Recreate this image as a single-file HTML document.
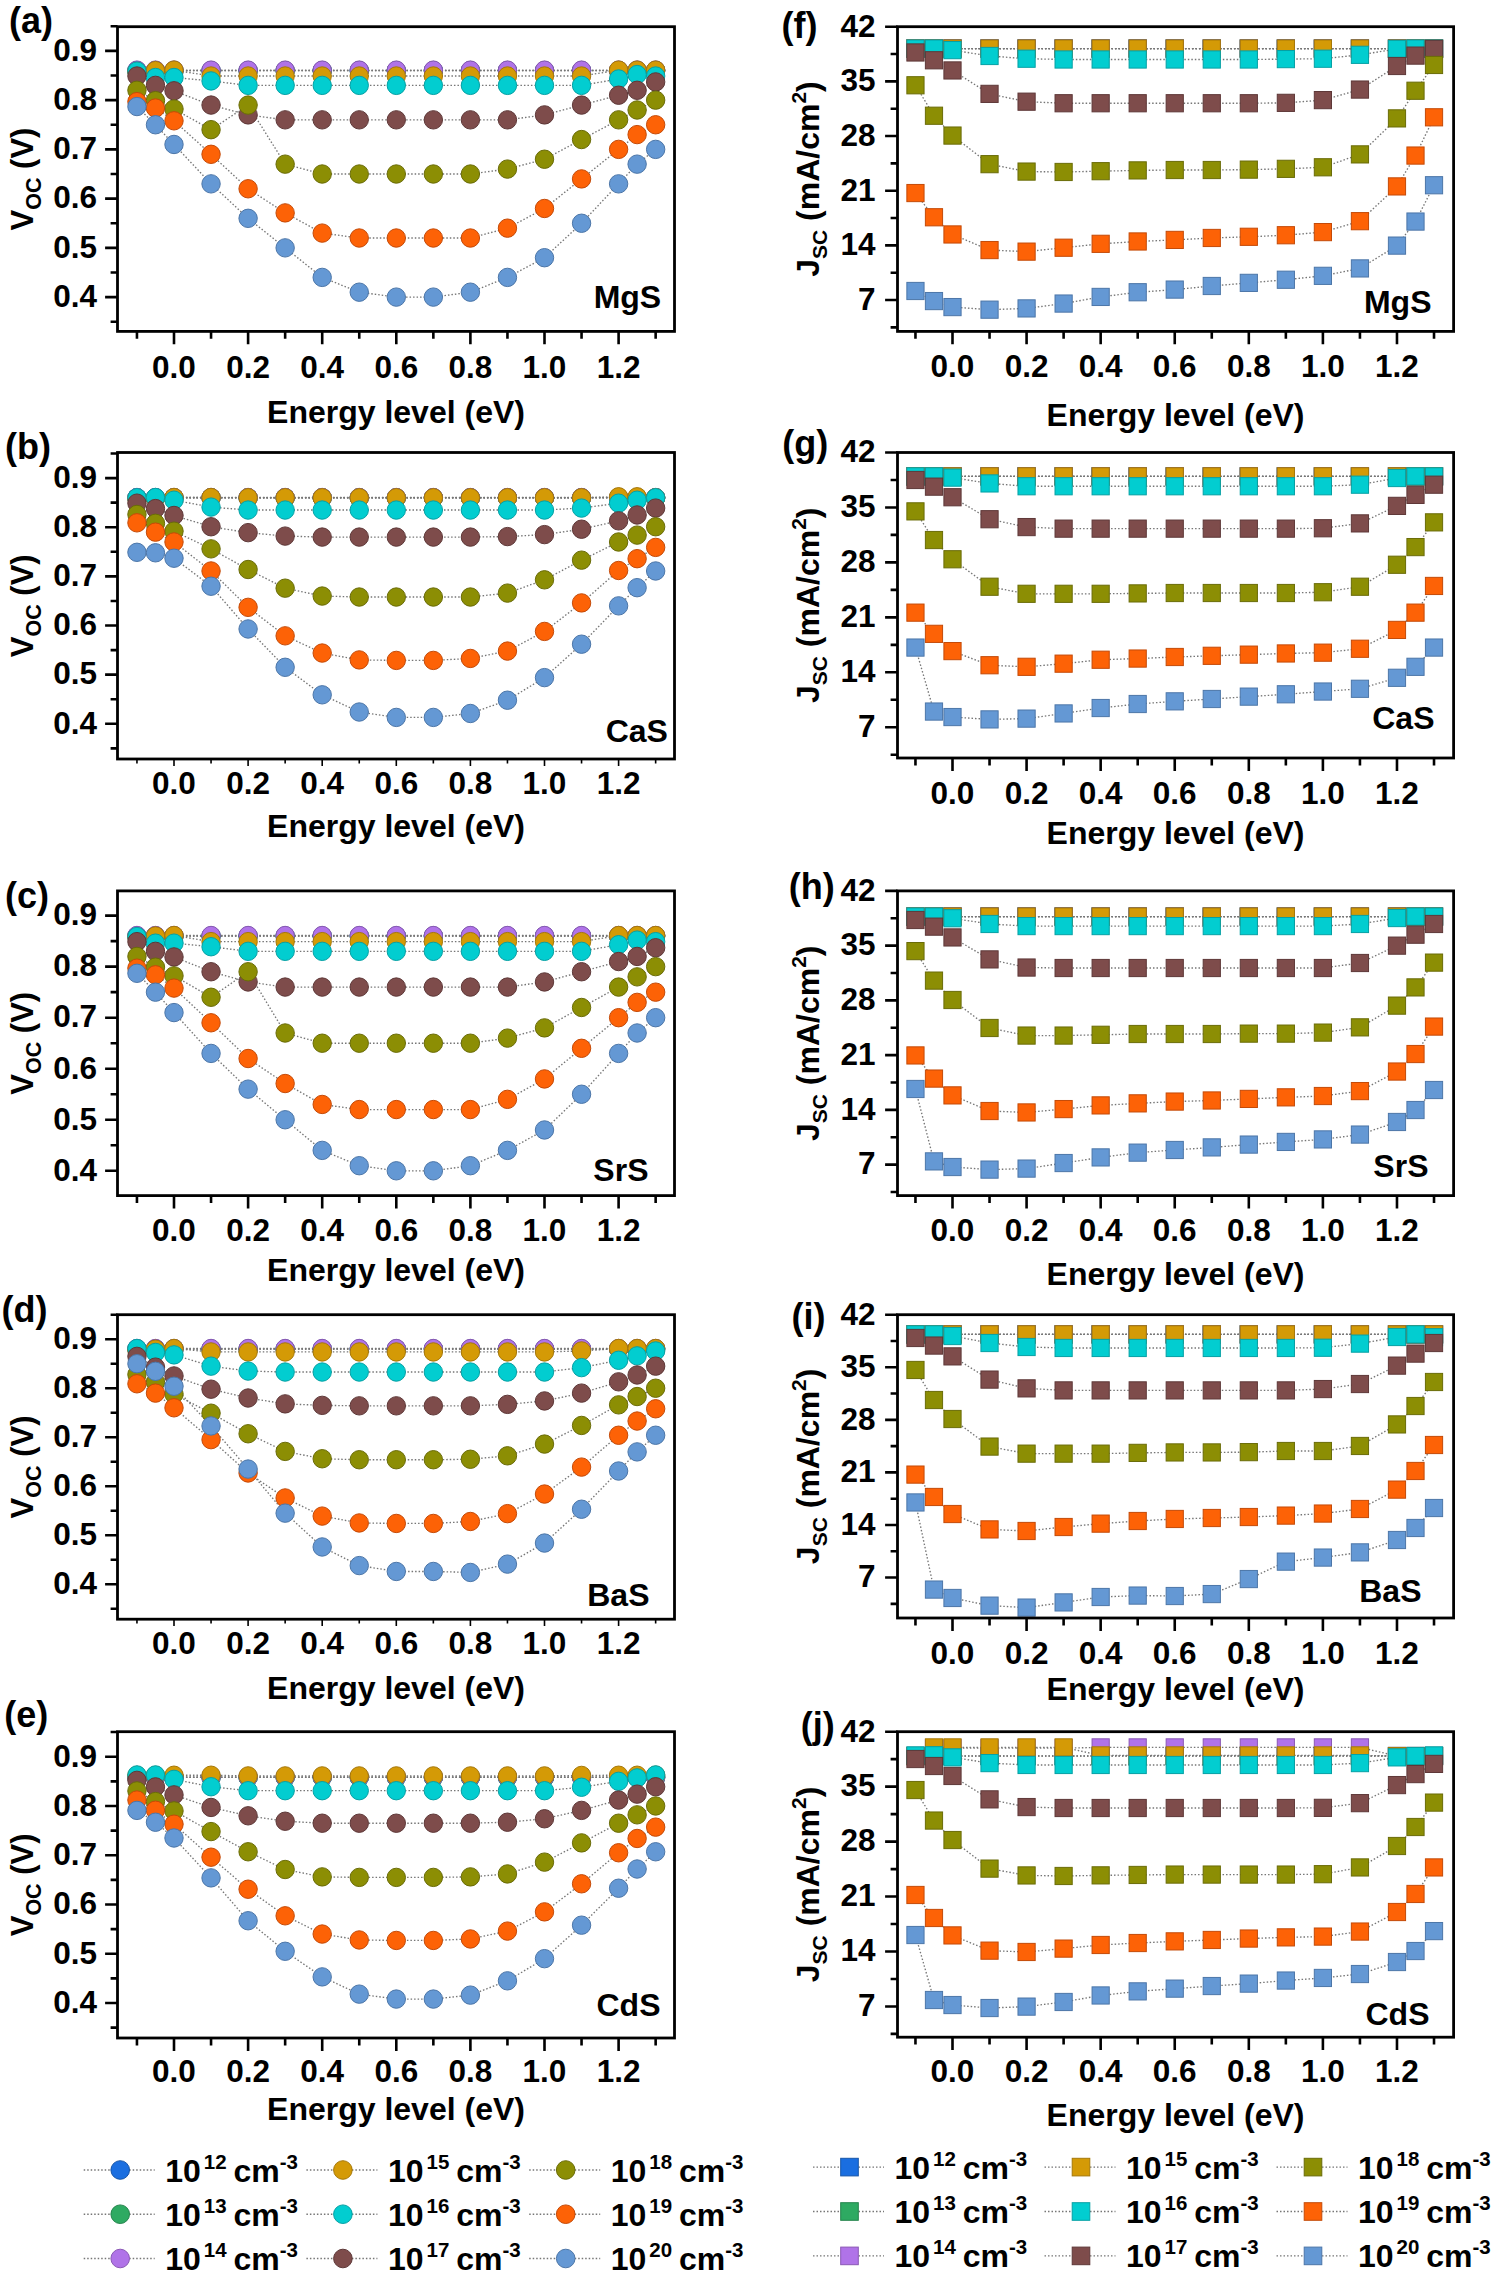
<!DOCTYPE html><html><head><meta charset="utf-8"><title>Voc Jsc defect energy level</title>
<style>html,body{margin:0;padding:0;background:#fff;overflow:hidden;width:1499px;height:2278px;}svg{display:block;}</style></head><body>
<svg width="1499" height="2278" viewBox="0 0 1499 2278">
<rect width="1499" height="2278" fill="#fff"/>
<g fill="none" stroke="#767676" stroke-width="1.35" stroke-dasharray="1.5 2.0">
<polyline points="136.95,70.6 155.47,70.6 174,70.6 211.05,70.6 248.1,70.6 285.15,70.6 322.2,70.6 359.25,70.6 396.3,70.6 433.35,70.6 470.4,70.6 507.45,70.6 544.5,70.6 581.55,70.6 618.6,70.6 637.12,70.6 655.65,70.6"/>
<polyline points="136.95,70.6 155.47,70.6 174,70.6 211.05,70.6 248.1,70.6 285.15,70.6 322.2,70.6 359.25,70.6 396.3,70.6 433.35,70.6 470.4,70.6 507.45,70.6 544.5,70.6 581.55,70.6 618.6,70.6 637.12,70.6 655.65,70.6"/>
<polyline points="136.95,70.1 155.47,70.1 174,70.1 211.05,70.1 248.1,70.1 285.15,70.1 322.2,70.1 359.25,70.1 396.3,70.1 433.35,70.1 470.4,70.1 507.45,70.1 544.5,70.1 581.55,70.1 618.6,70.1 637.12,70.1 655.65,70.1"/>
<polyline points="136.95,71.58 155.47,70.6 174,70.1 211.05,76.01 248.1,76.01 285.15,76.01 322.2,76.01 359.25,76.01 396.3,76.01 433.35,76.01 470.4,76.01 507.45,76.01 544.5,76.01 581.55,76.01 618.6,70.1 637.12,70.1 655.65,70.1"/>
<polyline points="136.95,71.09 155.47,77.49 174,77.49 211.05,80.94 248.1,85.37 285.15,85.37 322.2,85.37 359.25,85.37 396.3,85.37 433.35,85.37 470.4,85.37 507.45,85.37 544.5,85.37 581.55,85.37 618.6,78.97 637.12,74.54 655.65,76.01"/>
<polyline points="136.95,76.01 155.47,85.37 174,90.78 211.05,105.06 248.1,114.91 285.15,119.84 322.2,119.84 359.25,119.84 396.3,119.84 433.35,119.84 470.4,119.84 507.45,119.84 544.5,114.91 581.55,105.06 618.6,95.22 637.12,90.29 655.65,81.92"/>
<polyline points="136.95,90.29 155.47,100.63 174,109 211.05,129.68 248.1,105.06 285.15,164.15 322.2,174 359.25,174 396.3,174 433.35,174 470.4,174 507.45,169.08 544.5,159.23 581.55,139.53 618.6,119.84 637.12,109.99 655.65,100.14"/>
<polyline points="136.95,101.62 155.47,108.02 174,120.82 211.05,154.3 248.1,188.77 285.15,212.9 322.2,233.09 359.25,238.01 396.3,238.01 433.35,238.01 470.4,238.01 507.45,228.16 544.5,208.47 581.55,178.92 618.6,149.38 637.12,134.61 655.65,124.76"/>
<polyline points="136.95,106.54 155.47,124.76 174,144.46 211.05,183.85 248.1,218.32 285.15,247.86 322.2,277.4 359.25,292.18 396.3,297.1 433.35,297.1 470.4,292.18 507.45,277.4 544.5,257.71 581.55,223.24 618.6,183.85 637.12,164.15 655.65,149.38"/>
</g>
<g fill="#1a6ee0" stroke="#1655a8" stroke-width="1">
<circle cx="136.95" cy="70.6" r="9.2"/>
<circle cx="155.47" cy="70.6" r="9.2"/>
<circle cx="174" cy="70.6" r="9.2"/>
<circle cx="211.05" cy="70.6" r="9.2"/>
<circle cx="248.1" cy="70.6" r="9.2"/>
<circle cx="285.15" cy="70.6" r="9.2"/>
<circle cx="322.2" cy="70.6" r="9.2"/>
<circle cx="359.25" cy="70.6" r="9.2"/>
<circle cx="396.3" cy="70.6" r="9.2"/>
<circle cx="433.35" cy="70.6" r="9.2"/>
<circle cx="470.4" cy="70.6" r="9.2"/>
<circle cx="507.45" cy="70.6" r="9.2"/>
<circle cx="544.5" cy="70.6" r="9.2"/>
<circle cx="581.55" cy="70.6" r="9.2"/>
<circle cx="618.6" cy="70.6" r="9.2"/>
<circle cx="637.12" cy="70.6" r="9.2"/>
<circle cx="655.65" cy="70.6" r="9.2"/>
</g>
<g fill="#2eaa62" stroke="#24844c" stroke-width="1">
<circle cx="136.95" cy="70.6" r="9.2"/>
<circle cx="155.47" cy="70.6" r="9.2"/>
<circle cx="174" cy="70.6" r="9.2"/>
<circle cx="211.05" cy="70.6" r="9.2"/>
<circle cx="248.1" cy="70.6" r="9.2"/>
<circle cx="285.15" cy="70.6" r="9.2"/>
<circle cx="322.2" cy="70.6" r="9.2"/>
<circle cx="359.25" cy="70.6" r="9.2"/>
<circle cx="396.3" cy="70.6" r="9.2"/>
<circle cx="433.35" cy="70.6" r="9.2"/>
<circle cx="470.4" cy="70.6" r="9.2"/>
<circle cx="507.45" cy="70.6" r="9.2"/>
<circle cx="544.5" cy="70.6" r="9.2"/>
<circle cx="581.55" cy="70.6" r="9.2"/>
<circle cx="618.6" cy="70.6" r="9.2"/>
<circle cx="637.12" cy="70.6" r="9.2"/>
<circle cx="655.65" cy="70.6" r="9.2"/>
</g>
<g fill="#b073e8" stroke="#8a58b5" stroke-width="1">
<circle cx="136.95" cy="70.1" r="9.2"/>
<circle cx="155.47" cy="70.1" r="9.2"/>
<circle cx="174" cy="70.1" r="9.2"/>
<circle cx="211.05" cy="70.1" r="9.2"/>
<circle cx="248.1" cy="70.1" r="9.2"/>
<circle cx="285.15" cy="70.1" r="9.2"/>
<circle cx="322.2" cy="70.1" r="9.2"/>
<circle cx="359.25" cy="70.1" r="9.2"/>
<circle cx="396.3" cy="70.1" r="9.2"/>
<circle cx="433.35" cy="70.1" r="9.2"/>
<circle cx="470.4" cy="70.1" r="9.2"/>
<circle cx="507.45" cy="70.1" r="9.2"/>
<circle cx="544.5" cy="70.1" r="9.2"/>
<circle cx="581.55" cy="70.1" r="9.2"/>
<circle cx="618.6" cy="70.1" r="9.2"/>
<circle cx="637.12" cy="70.1" r="9.2"/>
<circle cx="655.65" cy="70.1" r="9.2"/>
</g>
<g fill="#d49a06" stroke="#a67808" stroke-width="1">
<circle cx="136.95" cy="71.58" r="9.2"/>
<circle cx="155.47" cy="70.6" r="9.2"/>
<circle cx="174" cy="70.1" r="9.2"/>
<circle cx="211.05" cy="76.01" r="9.2"/>
<circle cx="248.1" cy="76.01" r="9.2"/>
<circle cx="285.15" cy="76.01" r="9.2"/>
<circle cx="322.2" cy="76.01" r="9.2"/>
<circle cx="359.25" cy="76.01" r="9.2"/>
<circle cx="396.3" cy="76.01" r="9.2"/>
<circle cx="433.35" cy="76.01" r="9.2"/>
<circle cx="470.4" cy="76.01" r="9.2"/>
<circle cx="507.45" cy="76.01" r="9.2"/>
<circle cx="544.5" cy="76.01" r="9.2"/>
<circle cx="581.55" cy="76.01" r="9.2"/>
<circle cx="618.6" cy="70.1" r="9.2"/>
<circle cx="637.12" cy="70.1" r="9.2"/>
<circle cx="655.65" cy="70.1" r="9.2"/>
</g>
<g fill="#02cdd0" stroke="#06a0a4" stroke-width="1">
<circle cx="136.95" cy="71.09" r="9.2"/>
<circle cx="155.47" cy="77.49" r="9.2"/>
<circle cx="174" cy="77.49" r="9.2"/>
<circle cx="211.05" cy="80.94" r="9.2"/>
<circle cx="248.1" cy="85.37" r="9.2"/>
<circle cx="285.15" cy="85.37" r="9.2"/>
<circle cx="322.2" cy="85.37" r="9.2"/>
<circle cx="359.25" cy="85.37" r="9.2"/>
<circle cx="396.3" cy="85.37" r="9.2"/>
<circle cx="433.35" cy="85.37" r="9.2"/>
<circle cx="470.4" cy="85.37" r="9.2"/>
<circle cx="507.45" cy="85.37" r="9.2"/>
<circle cx="544.5" cy="85.37" r="9.2"/>
<circle cx="581.55" cy="85.37" r="9.2"/>
<circle cx="618.6" cy="78.97" r="9.2"/>
<circle cx="637.12" cy="74.54" r="9.2"/>
<circle cx="655.65" cy="76.01" r="9.2"/>
</g>
<g fill="#7e4c4b" stroke="#5e3838" stroke-width="1">
<circle cx="136.95" cy="76.01" r="9.2"/>
<circle cx="155.47" cy="85.37" r="9.2"/>
<circle cx="174" cy="90.78" r="9.2"/>
<circle cx="211.05" cy="105.06" r="9.2"/>
<circle cx="248.1" cy="114.91" r="9.2"/>
<circle cx="285.15" cy="119.84" r="9.2"/>
<circle cx="322.2" cy="119.84" r="9.2"/>
<circle cx="359.25" cy="119.84" r="9.2"/>
<circle cx="396.3" cy="119.84" r="9.2"/>
<circle cx="433.35" cy="119.84" r="9.2"/>
<circle cx="470.4" cy="119.84" r="9.2"/>
<circle cx="507.45" cy="119.84" r="9.2"/>
<circle cx="544.5" cy="114.91" r="9.2"/>
<circle cx="581.55" cy="105.06" r="9.2"/>
<circle cx="618.6" cy="95.22" r="9.2"/>
<circle cx="637.12" cy="90.29" r="9.2"/>
<circle cx="655.65" cy="81.92" r="9.2"/>
</g>
<g fill="#8c8e04" stroke="#6a6c08" stroke-width="1">
<circle cx="136.95" cy="90.29" r="9.2"/>
<circle cx="155.47" cy="100.63" r="9.2"/>
<circle cx="174" cy="109" r="9.2"/>
<circle cx="211.05" cy="129.68" r="9.2"/>
<circle cx="248.1" cy="105.06" r="9.2"/>
<circle cx="285.15" cy="164.15" r="9.2"/>
<circle cx="322.2" cy="174" r="9.2"/>
<circle cx="359.25" cy="174" r="9.2"/>
<circle cx="396.3" cy="174" r="9.2"/>
<circle cx="433.35" cy="174" r="9.2"/>
<circle cx="470.4" cy="174" r="9.2"/>
<circle cx="507.45" cy="169.08" r="9.2"/>
<circle cx="544.5" cy="159.23" r="9.2"/>
<circle cx="581.55" cy="139.53" r="9.2"/>
<circle cx="618.6" cy="119.84" r="9.2"/>
<circle cx="637.12" cy="109.99" r="9.2"/>
<circle cx="655.65" cy="100.14" r="9.2"/>
</g>
<g fill="#fd6206" stroke="#c44a08" stroke-width="1">
<circle cx="136.95" cy="101.62" r="9.2"/>
<circle cx="155.47" cy="108.02" r="9.2"/>
<circle cx="174" cy="120.82" r="9.2"/>
<circle cx="211.05" cy="154.3" r="9.2"/>
<circle cx="248.1" cy="188.77" r="9.2"/>
<circle cx="285.15" cy="212.9" r="9.2"/>
<circle cx="322.2" cy="233.09" r="9.2"/>
<circle cx="359.25" cy="238.01" r="9.2"/>
<circle cx="396.3" cy="238.01" r="9.2"/>
<circle cx="433.35" cy="238.01" r="9.2"/>
<circle cx="470.4" cy="238.01" r="9.2"/>
<circle cx="507.45" cy="228.16" r="9.2"/>
<circle cx="544.5" cy="208.47" r="9.2"/>
<circle cx="581.55" cy="178.92" r="9.2"/>
<circle cx="618.6" cy="149.38" r="9.2"/>
<circle cx="637.12" cy="134.61" r="9.2"/>
<circle cx="655.65" cy="124.76" r="9.2"/>
</g>
<g fill="#6498d4" stroke="#4c76a8" stroke-width="1">
<circle cx="136.95" cy="106.54" r="9.2"/>
<circle cx="155.47" cy="124.76" r="9.2"/>
<circle cx="174" cy="144.46" r="9.2"/>
<circle cx="211.05" cy="183.85" r="9.2"/>
<circle cx="248.1" cy="218.32" r="9.2"/>
<circle cx="285.15" cy="247.86" r="9.2"/>
<circle cx="322.2" cy="277.4" r="9.2"/>
<circle cx="359.25" cy="292.18" r="9.2"/>
<circle cx="396.3" cy="297.1" r="9.2"/>
<circle cx="433.35" cy="297.1" r="9.2"/>
<circle cx="470.4" cy="292.18" r="9.2"/>
<circle cx="507.45" cy="277.4" r="9.2"/>
<circle cx="544.5" cy="257.71" r="9.2"/>
<circle cx="581.55" cy="223.24" r="9.2"/>
<circle cx="618.6" cy="183.85" r="9.2"/>
<circle cx="637.12" cy="164.15" r="9.2"/>
<circle cx="655.65" cy="149.38" r="9.2"/>
</g>
<rect x="117.5" y="26.7" width="557" height="304.7" fill="none" stroke="#000" stroke-width="2.8"/>
<path d="M136.95 331.4V338.8M174 331.4V344.3M211.05 331.4V338.8M248.1 331.4V344.3M285.15 331.4V338.8M322.2 331.4V344.3M359.25 331.4V338.8M396.3 331.4V344.3M433.35 331.4V338.8M470.4 331.4V344.3M507.45 331.4V338.8M544.5 331.4V344.3M581.55 331.4V338.8M618.6 331.4V344.3M655.65 331.4V338.8" stroke="#000" stroke-width="2.6" fill="none"/>
<path d="M117.5 321.72H110.6M117.5 297.1H105.1M117.5 272.48H110.6M117.5 247.86H105.1M117.5 223.24H110.6M117.5 198.62H105.1M117.5 174H110.6M117.5 149.38H105.1M117.5 124.76H110.6M117.5 100.14H105.1M117.5 75.52H110.6M117.5 50.9H105.1M117.5 26.28H110.6" stroke="#000" stroke-width="2.6" fill="none"/>
<g font-family="'Liberation Sans', sans-serif" font-weight="bold" font-size="31.5" fill="#000">
<text x="174" y="377.6" text-anchor="middle">0.0</text>
<text x="248.1" y="377.6" text-anchor="middle">0.2</text>
<text x="322.2" y="377.6" text-anchor="middle">0.4</text>
<text x="396.3" y="377.6" text-anchor="middle">0.6</text>
<text x="470.4" y="377.6" text-anchor="middle">0.8</text>
<text x="544.5" y="377.6" text-anchor="middle">1.0</text>
<text x="618.6" y="377.6" text-anchor="middle">1.2</text>
<text x="97" y="306.9" text-anchor="end">0.4</text>
<text x="97" y="257.66" text-anchor="end">0.5</text>
<text x="97" y="208.42" text-anchor="end">0.6</text>
<text x="97" y="159.18" text-anchor="end">0.7</text>
<text x="97" y="109.94" text-anchor="end">0.8</text>
<text x="97" y="60.7" text-anchor="end">0.9</text>
</g>
<text x="396" y="423" font-family="'Liberation Sans', sans-serif" font-weight="bold" font-size="32" text-anchor="middle">Energy level (eV)</text>
<text transform="translate(33,179.05) rotate(-90)" font-family="'Liberation Sans', sans-serif" font-weight="bold" font-size="31" text-anchor="middle">V<tspan font-size="21.5" dy="8">OC</tspan><tspan dy="-8"> (V)</tspan></text>
<text x="9" y="33.2" font-family="'Liberation Sans', sans-serif" font-weight="bold" font-size="36">(a)</text>
<text x="661.2" y="308.4" font-family="'Liberation Sans', sans-serif" font-weight="bold" font-size="32" text-anchor="end">MgS</text>
<g fill="none" stroke="#767676" stroke-width="1.35" stroke-dasharray="1.5 2.0">
<polyline points="136.95,497.76 155.47,497.76 174,497.76 211.05,497.76 248.1,497.76 285.15,497.76 322.2,497.76 359.25,497.76 396.3,497.76 433.35,497.76 470.4,497.76 507.45,497.76 544.5,497.76 581.55,497.76 618.6,497.76 637.12,497.76 655.65,497.76"/>
<polyline points="136.95,497.76 155.47,497.76 174,497.76 211.05,497.76 248.1,497.76 285.15,497.76 322.2,497.76 359.25,497.76 396.3,497.76 433.35,497.76 470.4,497.76 507.45,497.76 544.5,497.76 581.55,497.76 618.6,497.76 637.12,497.76 655.65,497.76"/>
<polyline points="136.95,497.51 155.47,497.51 174,497.51 211.05,497.51 248.1,497.51 285.15,497.51 322.2,497.51 359.25,497.51 396.3,497.51 433.35,497.51 470.4,497.51 507.45,497.51 544.5,497.51 581.55,497.51 618.6,497.51 637.12,497.51 655.65,497.51"/>
<polyline points="136.95,498.74 155.47,498.25 174,497.51 211.05,497.51 248.1,497.76 285.15,497.76 322.2,497.76 359.25,497.76 396.3,497.76 433.35,497.76 470.4,497.76 507.45,497.76 544.5,497.76 581.55,497.76 618.6,496.77 637.12,496.77 655.65,497.76"/>
<polyline points="136.95,497.76 155.47,497.51 174,500.21 211.05,507.09 248.1,510.04 285.15,510.04 322.2,510.04 359.25,510.04 396.3,510.04 433.35,510.04 470.4,510.04 507.45,510.04 544.5,510.04 581.55,508.08 618.6,503.16 637.12,500.21 655.65,497.76"/>
<polyline points="136.95,503.16 155.47,508.57 174,515.45 211.05,526.75 248.1,532.65 285.15,536.09 322.2,537.07 359.25,537.07 396.3,537.07 433.35,537.07 470.4,537.07 507.45,536.58 544.5,534.61 581.55,529.21 618.6,520.85 637.12,514.96 655.65,508.08"/>
<polyline points="136.95,514.46 155.47,523.31 174,531.17 211.05,548.86 248.1,569.5 285.15,588.17 322.2,596.04 359.25,597.02 396.3,597.02 433.35,597.02 470.4,597.02 507.45,593.09 544.5,579.82 581.55,560.16 618.6,541.98 637.12,535.1 655.65,526.75"/>
<polyline points="136.95,522.82 155.47,532.15 174,541.98 211.05,570.97 248.1,607.34 285.15,635.84 322.2,653.04 359.25,659.92 396.3,660.41 433.35,660.41 470.4,658.44 507.45,651.07 544.5,631.42 581.55,602.92 618.6,570.48 637.12,558.69 655.65,547.39"/>
<polyline points="136.95,552.3 155.47,552.79 174,558.2 211.05,586.21 248.1,628.96 285.15,667.29 322.2,694.81 359.25,712.01 396.3,717.41 433.35,717.41 470.4,713.48 507.45,700.21 544.5,677.61 581.55,644.19 618.6,605.86 637.12,587.68 655.65,570.97"/>
</g>
<g fill="#1a6ee0" stroke="#1655a8" stroke-width="1">
<circle cx="136.95" cy="497.76" r="9.2"/>
<circle cx="155.47" cy="497.76" r="9.2"/>
<circle cx="174" cy="497.76" r="9.2"/>
<circle cx="211.05" cy="497.76" r="9.2"/>
<circle cx="248.1" cy="497.76" r="9.2"/>
<circle cx="285.15" cy="497.76" r="9.2"/>
<circle cx="322.2" cy="497.76" r="9.2"/>
<circle cx="359.25" cy="497.76" r="9.2"/>
<circle cx="396.3" cy="497.76" r="9.2"/>
<circle cx="433.35" cy="497.76" r="9.2"/>
<circle cx="470.4" cy="497.76" r="9.2"/>
<circle cx="507.45" cy="497.76" r="9.2"/>
<circle cx="544.5" cy="497.76" r="9.2"/>
<circle cx="581.55" cy="497.76" r="9.2"/>
<circle cx="618.6" cy="497.76" r="9.2"/>
<circle cx="637.12" cy="497.76" r="9.2"/>
<circle cx="655.65" cy="497.76" r="9.2"/>
</g>
<g fill="#2eaa62" stroke="#24844c" stroke-width="1">
<circle cx="136.95" cy="497.76" r="9.2"/>
<circle cx="155.47" cy="497.76" r="9.2"/>
<circle cx="174" cy="497.76" r="9.2"/>
<circle cx="211.05" cy="497.76" r="9.2"/>
<circle cx="248.1" cy="497.76" r="9.2"/>
<circle cx="285.15" cy="497.76" r="9.2"/>
<circle cx="322.2" cy="497.76" r="9.2"/>
<circle cx="359.25" cy="497.76" r="9.2"/>
<circle cx="396.3" cy="497.76" r="9.2"/>
<circle cx="433.35" cy="497.76" r="9.2"/>
<circle cx="470.4" cy="497.76" r="9.2"/>
<circle cx="507.45" cy="497.76" r="9.2"/>
<circle cx="544.5" cy="497.76" r="9.2"/>
<circle cx="581.55" cy="497.76" r="9.2"/>
<circle cx="618.6" cy="497.76" r="9.2"/>
<circle cx="637.12" cy="497.76" r="9.2"/>
<circle cx="655.65" cy="497.76" r="9.2"/>
</g>
<g fill="#b073e8" stroke="#8a58b5" stroke-width="1">
<circle cx="136.95" cy="497.51" r="9.2"/>
<circle cx="155.47" cy="497.51" r="9.2"/>
<circle cx="174" cy="497.51" r="9.2"/>
<circle cx="211.05" cy="497.51" r="9.2"/>
<circle cx="248.1" cy="497.51" r="9.2"/>
<circle cx="285.15" cy="497.51" r="9.2"/>
<circle cx="322.2" cy="497.51" r="9.2"/>
<circle cx="359.25" cy="497.51" r="9.2"/>
<circle cx="396.3" cy="497.51" r="9.2"/>
<circle cx="433.35" cy="497.51" r="9.2"/>
<circle cx="470.4" cy="497.51" r="9.2"/>
<circle cx="507.45" cy="497.51" r="9.2"/>
<circle cx="544.5" cy="497.51" r="9.2"/>
<circle cx="581.55" cy="497.51" r="9.2"/>
<circle cx="618.6" cy="497.51" r="9.2"/>
<circle cx="637.12" cy="497.51" r="9.2"/>
<circle cx="655.65" cy="497.51" r="9.2"/>
</g>
<g fill="#d49a06" stroke="#a67808" stroke-width="1">
<circle cx="136.95" cy="498.74" r="9.2"/>
<circle cx="155.47" cy="498.25" r="9.2"/>
<circle cx="174" cy="497.51" r="9.2"/>
<circle cx="211.05" cy="497.51" r="9.2"/>
<circle cx="248.1" cy="497.76" r="9.2"/>
<circle cx="285.15" cy="497.76" r="9.2"/>
<circle cx="322.2" cy="497.76" r="9.2"/>
<circle cx="359.25" cy="497.76" r="9.2"/>
<circle cx="396.3" cy="497.76" r="9.2"/>
<circle cx="433.35" cy="497.76" r="9.2"/>
<circle cx="470.4" cy="497.76" r="9.2"/>
<circle cx="507.45" cy="497.76" r="9.2"/>
<circle cx="544.5" cy="497.76" r="9.2"/>
<circle cx="581.55" cy="497.76" r="9.2"/>
<circle cx="618.6" cy="496.77" r="9.2"/>
<circle cx="637.12" cy="496.77" r="9.2"/>
<circle cx="655.65" cy="497.76" r="9.2"/>
</g>
<g fill="#02cdd0" stroke="#06a0a4" stroke-width="1">
<circle cx="136.95" cy="497.76" r="9.2"/>
<circle cx="155.47" cy="497.51" r="9.2"/>
<circle cx="174" cy="500.21" r="9.2"/>
<circle cx="211.05" cy="507.09" r="9.2"/>
<circle cx="248.1" cy="510.04" r="9.2"/>
<circle cx="285.15" cy="510.04" r="9.2"/>
<circle cx="322.2" cy="510.04" r="9.2"/>
<circle cx="359.25" cy="510.04" r="9.2"/>
<circle cx="396.3" cy="510.04" r="9.2"/>
<circle cx="433.35" cy="510.04" r="9.2"/>
<circle cx="470.4" cy="510.04" r="9.2"/>
<circle cx="507.45" cy="510.04" r="9.2"/>
<circle cx="544.5" cy="510.04" r="9.2"/>
<circle cx="581.55" cy="508.08" r="9.2"/>
<circle cx="618.6" cy="503.16" r="9.2"/>
<circle cx="637.12" cy="500.21" r="9.2"/>
<circle cx="655.65" cy="497.76" r="9.2"/>
</g>
<g fill="#7e4c4b" stroke="#5e3838" stroke-width="1">
<circle cx="136.95" cy="503.16" r="9.2"/>
<circle cx="155.47" cy="508.57" r="9.2"/>
<circle cx="174" cy="515.45" r="9.2"/>
<circle cx="211.05" cy="526.75" r="9.2"/>
<circle cx="248.1" cy="532.65" r="9.2"/>
<circle cx="285.15" cy="536.09" r="9.2"/>
<circle cx="322.2" cy="537.07" r="9.2"/>
<circle cx="359.25" cy="537.07" r="9.2"/>
<circle cx="396.3" cy="537.07" r="9.2"/>
<circle cx="433.35" cy="537.07" r="9.2"/>
<circle cx="470.4" cy="537.07" r="9.2"/>
<circle cx="507.45" cy="536.58" r="9.2"/>
<circle cx="544.5" cy="534.61" r="9.2"/>
<circle cx="581.55" cy="529.21" r="9.2"/>
<circle cx="618.6" cy="520.85" r="9.2"/>
<circle cx="637.12" cy="514.96" r="9.2"/>
<circle cx="655.65" cy="508.08" r="9.2"/>
</g>
<g fill="#8c8e04" stroke="#6a6c08" stroke-width="1">
<circle cx="136.95" cy="514.46" r="9.2"/>
<circle cx="155.47" cy="523.31" r="9.2"/>
<circle cx="174" cy="531.17" r="9.2"/>
<circle cx="211.05" cy="548.86" r="9.2"/>
<circle cx="248.1" cy="569.5" r="9.2"/>
<circle cx="285.15" cy="588.17" r="9.2"/>
<circle cx="322.2" cy="596.04" r="9.2"/>
<circle cx="359.25" cy="597.02" r="9.2"/>
<circle cx="396.3" cy="597.02" r="9.2"/>
<circle cx="433.35" cy="597.02" r="9.2"/>
<circle cx="470.4" cy="597.02" r="9.2"/>
<circle cx="507.45" cy="593.09" r="9.2"/>
<circle cx="544.5" cy="579.82" r="9.2"/>
<circle cx="581.55" cy="560.16" r="9.2"/>
<circle cx="618.6" cy="541.98" r="9.2"/>
<circle cx="637.12" cy="535.1" r="9.2"/>
<circle cx="655.65" cy="526.75" r="9.2"/>
</g>
<g fill="#fd6206" stroke="#c44a08" stroke-width="1">
<circle cx="136.95" cy="522.82" r="9.2"/>
<circle cx="155.47" cy="532.15" r="9.2"/>
<circle cx="174" cy="541.98" r="9.2"/>
<circle cx="211.05" cy="570.97" r="9.2"/>
<circle cx="248.1" cy="607.34" r="9.2"/>
<circle cx="285.15" cy="635.84" r="9.2"/>
<circle cx="322.2" cy="653.04" r="9.2"/>
<circle cx="359.25" cy="659.92" r="9.2"/>
<circle cx="396.3" cy="660.41" r="9.2"/>
<circle cx="433.35" cy="660.41" r="9.2"/>
<circle cx="470.4" cy="658.44" r="9.2"/>
<circle cx="507.45" cy="651.07" r="9.2"/>
<circle cx="544.5" cy="631.42" r="9.2"/>
<circle cx="581.55" cy="602.92" r="9.2"/>
<circle cx="618.6" cy="570.48" r="9.2"/>
<circle cx="637.12" cy="558.69" r="9.2"/>
<circle cx="655.65" cy="547.39" r="9.2"/>
</g>
<g fill="#6498d4" stroke="#4c76a8" stroke-width="1">
<circle cx="136.95" cy="552.3" r="9.2"/>
<circle cx="155.47" cy="552.79" r="9.2"/>
<circle cx="174" cy="558.2" r="9.2"/>
<circle cx="211.05" cy="586.21" r="9.2"/>
<circle cx="248.1" cy="628.96" r="9.2"/>
<circle cx="285.15" cy="667.29" r="9.2"/>
<circle cx="322.2" cy="694.81" r="9.2"/>
<circle cx="359.25" cy="712.01" r="9.2"/>
<circle cx="396.3" cy="717.41" r="9.2"/>
<circle cx="433.35" cy="717.41" r="9.2"/>
<circle cx="470.4" cy="713.48" r="9.2"/>
<circle cx="507.45" cy="700.21" r="9.2"/>
<circle cx="544.5" cy="677.61" r="9.2"/>
<circle cx="581.55" cy="644.19" r="9.2"/>
<circle cx="618.6" cy="605.86" r="9.2"/>
<circle cx="637.12" cy="587.68" r="9.2"/>
<circle cx="655.65" cy="570.97" r="9.2"/>
</g>
<rect x="117.5" y="452.5" width="557" height="306.5" fill="none" stroke="#000" stroke-width="2.8"/>
<path d="M136.95 759V763.4M174 759V765.9M211.05 759V763.4M248.1 759V765.9M285.15 759V763.4M322.2 759V765.9M359.25 759V763.4M396.3 759V765.9M433.35 759V763.4M470.4 759V765.9M507.45 759V763.4M544.5 759V765.9M581.55 759V763.4M618.6 759V765.9M655.65 759V763.4" stroke="#000" stroke-width="1.6" fill="none"/>
<path d="M117.5 748.37H110.6M117.5 723.8H105.1M117.5 699.23H110.6M117.5 674.66H105.1M117.5 650.09H110.6M117.5 625.52H105.1M117.5 600.95H110.6M117.5 576.38H105.1M117.5 551.81H110.6M117.5 527.24H105.1M117.5 502.67H110.6M117.5 478.1H105.1M117.5 453.53H110.6" stroke="#000" stroke-width="2.6" fill="none"/>
<g font-family="'Liberation Sans', sans-serif" font-weight="bold" font-size="31.5" fill="#000">
<text x="174" y="793.6" text-anchor="middle">0.0</text>
<text x="248.1" y="793.6" text-anchor="middle">0.2</text>
<text x="322.2" y="793.6" text-anchor="middle">0.4</text>
<text x="396.3" y="793.6" text-anchor="middle">0.6</text>
<text x="470.4" y="793.6" text-anchor="middle">0.8</text>
<text x="544.5" y="793.6" text-anchor="middle">1.0</text>
<text x="618.6" y="793.6" text-anchor="middle">1.2</text>
<text x="97" y="733.6" text-anchor="end">0.4</text>
<text x="97" y="684.46" text-anchor="end">0.5</text>
<text x="97" y="635.32" text-anchor="end">0.6</text>
<text x="97" y="586.18" text-anchor="end">0.7</text>
<text x="97" y="537.04" text-anchor="end">0.8</text>
<text x="97" y="487.9" text-anchor="end">0.9</text>
</g>
<text x="396" y="837" font-family="'Liberation Sans', sans-serif" font-weight="bold" font-size="32" text-anchor="middle">Energy level (eV)</text>
<text transform="translate(33,605.75) rotate(-90)" font-family="'Liberation Sans', sans-serif" font-weight="bold" font-size="31" text-anchor="middle">V<tspan font-size="21.5" dy="8">OC</tspan><tspan dy="-8"> (V)</tspan></text>
<text x="5" y="458.5" font-family="'Liberation Sans', sans-serif" font-weight="bold" font-size="36">(b)</text>
<text x="667.9" y="741.7" font-family="'Liberation Sans', sans-serif" font-weight="bold" font-size="32" text-anchor="end">CaS</text>
<g fill="none" stroke="#767676" stroke-width="1.35" stroke-dasharray="1.5 2.0">
<polyline points="136.95,936.02 155.47,936.02 174,936.02 211.05,936.02 248.1,936.02 285.15,936.02 322.2,936.02 359.25,936.02 396.3,936.02 433.35,936.02 470.4,936.02 507.45,936.02 544.5,936.02 581.55,936.02 618.6,936.02 637.12,936.02 655.65,936.02"/>
<polyline points="136.95,936.02 155.47,936.02 174,936.02 211.05,936.02 248.1,936.02 285.15,936.02 322.2,936.02 359.25,936.02 396.3,936.02 433.35,936.02 470.4,936.02 507.45,936.02 544.5,936.02 581.55,936.02 618.6,936.02 637.12,936.02 655.65,936.02"/>
<polyline points="136.95,935.51 155.47,935.51 174,935.51 211.05,935.51 248.1,935.51 285.15,935.51 322.2,935.51 359.25,935.51 396.3,935.51 433.35,935.51 470.4,935.51 507.45,935.51 544.5,935.51 581.55,935.51 618.6,935.51 637.12,935.51 655.65,935.51"/>
<polyline points="136.95,937.04 155.47,936.02 174,935.51 211.05,941.63 248.1,941.63 285.15,941.63 322.2,941.63 359.25,941.63 396.3,941.63 433.35,941.63 470.4,941.63 507.45,941.63 544.5,941.63 581.55,941.63 618.6,935.51 637.12,935.51 655.65,935.51"/>
<polyline points="136.95,936.53 155.47,943.16 174,943.16 211.05,946.73 248.1,951.33 285.15,951.33 322.2,951.33 359.25,951.33 396.3,951.33 433.35,951.33 470.4,951.33 507.45,951.33 544.5,951.33 581.55,951.33 618.6,944.69 637.12,940.1 655.65,941.63"/>
<polyline points="136.95,941.63 155.47,951.33 174,956.94 211.05,971.74 248.1,981.95 285.15,987.06 322.2,987.06 359.25,987.06 396.3,987.06 433.35,987.06 470.4,987.06 507.45,987.06 544.5,981.95 581.55,971.74 618.6,961.54 637.12,956.43 655.65,947.76"/>
<polyline points="136.95,956.43 155.47,967.15 174,975.83 211.05,997.26 248.1,971.74 285.15,1032.99 322.2,1043.2 359.25,1043.2 396.3,1043.2 433.35,1043.2 470.4,1043.2 507.45,1038.1 544.5,1027.89 581.55,1007.47 618.6,987.06 637.12,976.85 655.65,966.64"/>
<polyline points="136.95,968.17 155.47,974.81 174,988.08 211.05,1022.78 248.1,1058.51 285.15,1083.52 322.2,1104.45 359.25,1109.55 396.3,1109.55 433.35,1109.55 470.4,1109.55 507.45,1099.34 544.5,1078.93 581.55,1048.3 618.6,1017.68 637.12,1002.37 655.65,992.16"/>
<polyline points="136.95,973.28 155.47,992.16 174,1012.58 211.05,1053.41 248.1,1089.14 285.15,1119.76 322.2,1150.38 359.25,1165.7 396.3,1170.8 433.35,1170.8 470.4,1165.7 507.45,1150.38 544.5,1129.97 581.55,1094.24 618.6,1053.41 637.12,1032.99 655.65,1017.68"/>
</g>
<g fill="#1a6ee0" stroke="#1655a8" stroke-width="1">
<circle cx="136.95" cy="936.02" r="9.2"/>
<circle cx="155.47" cy="936.02" r="9.2"/>
<circle cx="174" cy="936.02" r="9.2"/>
<circle cx="211.05" cy="936.02" r="9.2"/>
<circle cx="248.1" cy="936.02" r="9.2"/>
<circle cx="285.15" cy="936.02" r="9.2"/>
<circle cx="322.2" cy="936.02" r="9.2"/>
<circle cx="359.25" cy="936.02" r="9.2"/>
<circle cx="396.3" cy="936.02" r="9.2"/>
<circle cx="433.35" cy="936.02" r="9.2"/>
<circle cx="470.4" cy="936.02" r="9.2"/>
<circle cx="507.45" cy="936.02" r="9.2"/>
<circle cx="544.5" cy="936.02" r="9.2"/>
<circle cx="581.55" cy="936.02" r="9.2"/>
<circle cx="618.6" cy="936.02" r="9.2"/>
<circle cx="637.12" cy="936.02" r="9.2"/>
<circle cx="655.65" cy="936.02" r="9.2"/>
</g>
<g fill="#2eaa62" stroke="#24844c" stroke-width="1">
<circle cx="136.95" cy="936.02" r="9.2"/>
<circle cx="155.47" cy="936.02" r="9.2"/>
<circle cx="174" cy="936.02" r="9.2"/>
<circle cx="211.05" cy="936.02" r="9.2"/>
<circle cx="248.1" cy="936.02" r="9.2"/>
<circle cx="285.15" cy="936.02" r="9.2"/>
<circle cx="322.2" cy="936.02" r="9.2"/>
<circle cx="359.25" cy="936.02" r="9.2"/>
<circle cx="396.3" cy="936.02" r="9.2"/>
<circle cx="433.35" cy="936.02" r="9.2"/>
<circle cx="470.4" cy="936.02" r="9.2"/>
<circle cx="507.45" cy="936.02" r="9.2"/>
<circle cx="544.5" cy="936.02" r="9.2"/>
<circle cx="581.55" cy="936.02" r="9.2"/>
<circle cx="618.6" cy="936.02" r="9.2"/>
<circle cx="637.12" cy="936.02" r="9.2"/>
<circle cx="655.65" cy="936.02" r="9.2"/>
</g>
<g fill="#b073e8" stroke="#8a58b5" stroke-width="1">
<circle cx="136.95" cy="935.51" r="9.2"/>
<circle cx="155.47" cy="935.51" r="9.2"/>
<circle cx="174" cy="935.51" r="9.2"/>
<circle cx="211.05" cy="935.51" r="9.2"/>
<circle cx="248.1" cy="935.51" r="9.2"/>
<circle cx="285.15" cy="935.51" r="9.2"/>
<circle cx="322.2" cy="935.51" r="9.2"/>
<circle cx="359.25" cy="935.51" r="9.2"/>
<circle cx="396.3" cy="935.51" r="9.2"/>
<circle cx="433.35" cy="935.51" r="9.2"/>
<circle cx="470.4" cy="935.51" r="9.2"/>
<circle cx="507.45" cy="935.51" r="9.2"/>
<circle cx="544.5" cy="935.51" r="9.2"/>
<circle cx="581.55" cy="935.51" r="9.2"/>
<circle cx="618.6" cy="935.51" r="9.2"/>
<circle cx="637.12" cy="935.51" r="9.2"/>
<circle cx="655.65" cy="935.51" r="9.2"/>
</g>
<g fill="#d49a06" stroke="#a67808" stroke-width="1">
<circle cx="136.95" cy="937.04" r="9.2"/>
<circle cx="155.47" cy="936.02" r="9.2"/>
<circle cx="174" cy="935.51" r="9.2"/>
<circle cx="211.05" cy="941.63" r="9.2"/>
<circle cx="248.1" cy="941.63" r="9.2"/>
<circle cx="285.15" cy="941.63" r="9.2"/>
<circle cx="322.2" cy="941.63" r="9.2"/>
<circle cx="359.25" cy="941.63" r="9.2"/>
<circle cx="396.3" cy="941.63" r="9.2"/>
<circle cx="433.35" cy="941.63" r="9.2"/>
<circle cx="470.4" cy="941.63" r="9.2"/>
<circle cx="507.45" cy="941.63" r="9.2"/>
<circle cx="544.5" cy="941.63" r="9.2"/>
<circle cx="581.55" cy="941.63" r="9.2"/>
<circle cx="618.6" cy="935.51" r="9.2"/>
<circle cx="637.12" cy="935.51" r="9.2"/>
<circle cx="655.65" cy="935.51" r="9.2"/>
</g>
<g fill="#02cdd0" stroke="#06a0a4" stroke-width="1">
<circle cx="136.95" cy="936.53" r="9.2"/>
<circle cx="155.47" cy="943.16" r="9.2"/>
<circle cx="174" cy="943.16" r="9.2"/>
<circle cx="211.05" cy="946.73" r="9.2"/>
<circle cx="248.1" cy="951.33" r="9.2"/>
<circle cx="285.15" cy="951.33" r="9.2"/>
<circle cx="322.2" cy="951.33" r="9.2"/>
<circle cx="359.25" cy="951.33" r="9.2"/>
<circle cx="396.3" cy="951.33" r="9.2"/>
<circle cx="433.35" cy="951.33" r="9.2"/>
<circle cx="470.4" cy="951.33" r="9.2"/>
<circle cx="507.45" cy="951.33" r="9.2"/>
<circle cx="544.5" cy="951.33" r="9.2"/>
<circle cx="581.55" cy="951.33" r="9.2"/>
<circle cx="618.6" cy="944.69" r="9.2"/>
<circle cx="637.12" cy="940.1" r="9.2"/>
<circle cx="655.65" cy="941.63" r="9.2"/>
</g>
<g fill="#7e4c4b" stroke="#5e3838" stroke-width="1">
<circle cx="136.95" cy="941.63" r="9.2"/>
<circle cx="155.47" cy="951.33" r="9.2"/>
<circle cx="174" cy="956.94" r="9.2"/>
<circle cx="211.05" cy="971.74" r="9.2"/>
<circle cx="248.1" cy="981.95" r="9.2"/>
<circle cx="285.15" cy="987.06" r="9.2"/>
<circle cx="322.2" cy="987.06" r="9.2"/>
<circle cx="359.25" cy="987.06" r="9.2"/>
<circle cx="396.3" cy="987.06" r="9.2"/>
<circle cx="433.35" cy="987.06" r="9.2"/>
<circle cx="470.4" cy="987.06" r="9.2"/>
<circle cx="507.45" cy="987.06" r="9.2"/>
<circle cx="544.5" cy="981.95" r="9.2"/>
<circle cx="581.55" cy="971.74" r="9.2"/>
<circle cx="618.6" cy="961.54" r="9.2"/>
<circle cx="637.12" cy="956.43" r="9.2"/>
<circle cx="655.65" cy="947.76" r="9.2"/>
</g>
<g fill="#8c8e04" stroke="#6a6c08" stroke-width="1">
<circle cx="136.95" cy="956.43" r="9.2"/>
<circle cx="155.47" cy="967.15" r="9.2"/>
<circle cx="174" cy="975.83" r="9.2"/>
<circle cx="211.05" cy="997.26" r="9.2"/>
<circle cx="248.1" cy="971.74" r="9.2"/>
<circle cx="285.15" cy="1032.99" r="9.2"/>
<circle cx="322.2" cy="1043.2" r="9.2"/>
<circle cx="359.25" cy="1043.2" r="9.2"/>
<circle cx="396.3" cy="1043.2" r="9.2"/>
<circle cx="433.35" cy="1043.2" r="9.2"/>
<circle cx="470.4" cy="1043.2" r="9.2"/>
<circle cx="507.45" cy="1038.1" r="9.2"/>
<circle cx="544.5" cy="1027.89" r="9.2"/>
<circle cx="581.55" cy="1007.47" r="9.2"/>
<circle cx="618.6" cy="987.06" r="9.2"/>
<circle cx="637.12" cy="976.85" r="9.2"/>
<circle cx="655.65" cy="966.64" r="9.2"/>
</g>
<g fill="#fd6206" stroke="#c44a08" stroke-width="1">
<circle cx="136.95" cy="968.17" r="9.2"/>
<circle cx="155.47" cy="974.81" r="9.2"/>
<circle cx="174" cy="988.08" r="9.2"/>
<circle cx="211.05" cy="1022.78" r="9.2"/>
<circle cx="248.1" cy="1058.51" r="9.2"/>
<circle cx="285.15" cy="1083.52" r="9.2"/>
<circle cx="322.2" cy="1104.45" r="9.2"/>
<circle cx="359.25" cy="1109.55" r="9.2"/>
<circle cx="396.3" cy="1109.55" r="9.2"/>
<circle cx="433.35" cy="1109.55" r="9.2"/>
<circle cx="470.4" cy="1109.55" r="9.2"/>
<circle cx="507.45" cy="1099.34" r="9.2"/>
<circle cx="544.5" cy="1078.93" r="9.2"/>
<circle cx="581.55" cy="1048.3" r="9.2"/>
<circle cx="618.6" cy="1017.68" r="9.2"/>
<circle cx="637.12" cy="1002.37" r="9.2"/>
<circle cx="655.65" cy="992.16" r="9.2"/>
</g>
<g fill="#6498d4" stroke="#4c76a8" stroke-width="1">
<circle cx="136.95" cy="973.28" r="9.2"/>
<circle cx="155.47" cy="992.16" r="9.2"/>
<circle cx="174" cy="1012.58" r="9.2"/>
<circle cx="211.05" cy="1053.41" r="9.2"/>
<circle cx="248.1" cy="1089.14" r="9.2"/>
<circle cx="285.15" cy="1119.76" r="9.2"/>
<circle cx="322.2" cy="1150.38" r="9.2"/>
<circle cx="359.25" cy="1165.7" r="9.2"/>
<circle cx="396.3" cy="1170.8" r="9.2"/>
<circle cx="433.35" cy="1170.8" r="9.2"/>
<circle cx="470.4" cy="1165.7" r="9.2"/>
<circle cx="507.45" cy="1150.38" r="9.2"/>
<circle cx="544.5" cy="1129.97" r="9.2"/>
<circle cx="581.55" cy="1094.24" r="9.2"/>
<circle cx="618.6" cy="1053.41" r="9.2"/>
<circle cx="637.12" cy="1032.99" r="9.2"/>
<circle cx="655.65" cy="1017.68" r="9.2"/>
</g>
<rect x="117.5" y="890.9" width="557" height="304.7" fill="none" stroke="#000" stroke-width="2.8"/>
<path d="M136.95 1195.6V1203M174 1195.6V1208.5M211.05 1195.6V1203M248.1 1195.6V1208.5M285.15 1195.6V1203M322.2 1195.6V1208.5M359.25 1195.6V1203M396.3 1195.6V1208.5M433.35 1195.6V1203M470.4 1195.6V1208.5M507.45 1195.6V1203M544.5 1195.6V1208.5M581.55 1195.6V1203M618.6 1195.6V1208.5M655.65 1195.6V1203" stroke="#000" stroke-width="2.6" fill="none"/>
<path d="M117.5 1170.8H105.1M117.5 1145.28H110.6M117.5 1119.76H105.1M117.5 1094.24H110.6M117.5 1068.72H105.1M117.5 1043.2H110.6M117.5 1017.68H105.1M117.5 992.16H110.6M117.5 966.64H105.1M117.5 941.12H110.6M117.5 915.6H105.1" stroke="#000" stroke-width="2.6" fill="none"/>
<g font-family="'Liberation Sans', sans-serif" font-weight="bold" font-size="31.5" fill="#000">
<text x="174" y="1241.4" text-anchor="middle">0.0</text>
<text x="248.1" y="1241.4" text-anchor="middle">0.2</text>
<text x="322.2" y="1241.4" text-anchor="middle">0.4</text>
<text x="396.3" y="1241.4" text-anchor="middle">0.6</text>
<text x="470.4" y="1241.4" text-anchor="middle">0.8</text>
<text x="544.5" y="1241.4" text-anchor="middle">1.0</text>
<text x="618.6" y="1241.4" text-anchor="middle">1.2</text>
<text x="97" y="1180.6" text-anchor="end">0.4</text>
<text x="97" y="1129.56" text-anchor="end">0.5</text>
<text x="97" y="1078.52" text-anchor="end">0.6</text>
<text x="97" y="1027.48" text-anchor="end">0.7</text>
<text x="97" y="976.44" text-anchor="end">0.8</text>
<text x="97" y="925.4" text-anchor="end">0.9</text>
</g>
<text x="396" y="1280.6" font-family="'Liberation Sans', sans-serif" font-weight="bold" font-size="32" text-anchor="middle">Energy level (eV)</text>
<text transform="translate(33,1043.25) rotate(-90)" font-family="'Liberation Sans', sans-serif" font-weight="bold" font-size="31" text-anchor="middle">V<tspan font-size="21.5" dy="8">OC</tspan><tspan dy="-8"> (V)</tspan></text>
<text x="5" y="907.5" font-family="'Liberation Sans', sans-serif" font-weight="bold" font-size="36">(c)</text>
<text x="648.5" y="1180.5" font-family="'Liberation Sans', sans-serif" font-weight="bold" font-size="32" text-anchor="end">SrS</text>
<g fill="none" stroke="#767676" stroke-width="1.35" stroke-dasharray="1.5 2.0">
<polyline points="136.95,1349 155.47,1349 174,1349 211.05,1349 248.1,1349 285.15,1349 322.2,1349 359.25,1349 396.3,1349 433.35,1349 470.4,1349 507.45,1349 544.5,1349 581.55,1349 618.6,1349 637.12,1349 655.65,1349"/>
<polyline points="136.95,1349 155.47,1349 174,1349 211.05,1349 248.1,1349 285.15,1349 322.2,1349 359.25,1349 396.3,1349 433.35,1349 470.4,1349 507.45,1349 544.5,1349 581.55,1349 618.6,1349 637.12,1349 655.65,1349"/>
<polyline points="136.95,1348.51 155.47,1348.51 174,1348.51 211.05,1348.51 248.1,1348.51 285.15,1348.51 322.2,1348.51 359.25,1348.51 396.3,1348.51 433.35,1348.51 470.4,1348.51 507.45,1348.51 544.5,1348.51 581.55,1348.51 618.6,1348.51 637.12,1348.51 655.65,1348.51"/>
<polyline points="136.95,1349.98 155.47,1349.2 174,1348.51 211.05,1351.94 248.1,1351.94 285.15,1351.94 322.2,1351.94 359.25,1351.94 396.3,1351.94 433.35,1351.94 470.4,1351.94 507.45,1351.94 544.5,1351.94 581.55,1350.96 618.6,1348.51 637.12,1348.51 655.65,1348.51"/>
<polyline points="136.95,1348.51 155.47,1352.43 174,1354.88 211.05,1366.15 248.1,1371.05 285.15,1372.03 322.2,1372.03 359.25,1372.03 396.3,1372.03 433.35,1372.03 470.4,1372.03 507.45,1372.03 544.5,1372.03 581.55,1367.62 618.6,1360.27 637.12,1355.86 655.65,1350.96"/>
<polyline points="136.95,1356.35 155.47,1367.13 174,1375.95 211.05,1389.18 248.1,1398 285.15,1403.88 322.2,1405.35 359.25,1405.84 396.3,1405.84 433.35,1405.84 470.4,1405.84 507.45,1404.37 544.5,1400.94 581.55,1393.1 618.6,1381.83 637.12,1374.97 655.65,1366.15"/>
<polyline points="136.95,1374.48 155.47,1382.32 174,1394.08 211.05,1413.19 248.1,1433.77 285.15,1451.41 322.2,1458.76 359.25,1459.74 396.3,1459.74 433.35,1459.74 470.4,1459.25 507.45,1455.82 544.5,1444.06 581.55,1425.44 618.6,1404.86 637.12,1396.53 655.65,1388.2"/>
<polyline points="136.95,1383.79 155.47,1393.1 174,1407.8 211.05,1439.65 248.1,1472.97 285.15,1497.96 322.2,1516.09 359.25,1522.95 396.3,1523.44 433.35,1523.44 470.4,1521.48 507.45,1513.64 544.5,1494.04 581.55,1467.09 618.6,1435.24 637.12,1421.03 655.65,1408.78"/>
<polyline points="136.95,1363.7 155.47,1371.3 174,1386.24 211.05,1425.93 248.1,1469.05 285.15,1513.15 322.2,1546.96 359.25,1565.58 396.3,1571.46 433.35,1571.46 470.4,1572.44 507.45,1564.11 544.5,1543.04 581.55,1509.23 618.6,1471.01 637.12,1451.9 655.65,1435.24"/>
</g>
<g fill="#1a6ee0" stroke="#1655a8" stroke-width="1">
<circle cx="136.95" cy="1349" r="9.2"/>
<circle cx="155.47" cy="1349" r="9.2"/>
<circle cx="174" cy="1349" r="9.2"/>
<circle cx="211.05" cy="1349" r="9.2"/>
<circle cx="248.1" cy="1349" r="9.2"/>
<circle cx="285.15" cy="1349" r="9.2"/>
<circle cx="322.2" cy="1349" r="9.2"/>
<circle cx="359.25" cy="1349" r="9.2"/>
<circle cx="396.3" cy="1349" r="9.2"/>
<circle cx="433.35" cy="1349" r="9.2"/>
<circle cx="470.4" cy="1349" r="9.2"/>
<circle cx="507.45" cy="1349" r="9.2"/>
<circle cx="544.5" cy="1349" r="9.2"/>
<circle cx="581.55" cy="1349" r="9.2"/>
<circle cx="618.6" cy="1349" r="9.2"/>
<circle cx="637.12" cy="1349" r="9.2"/>
<circle cx="655.65" cy="1349" r="9.2"/>
</g>
<g fill="#2eaa62" stroke="#24844c" stroke-width="1">
<circle cx="136.95" cy="1349" r="9.2"/>
<circle cx="155.47" cy="1349" r="9.2"/>
<circle cx="174" cy="1349" r="9.2"/>
<circle cx="211.05" cy="1349" r="9.2"/>
<circle cx="248.1" cy="1349" r="9.2"/>
<circle cx="285.15" cy="1349" r="9.2"/>
<circle cx="322.2" cy="1349" r="9.2"/>
<circle cx="359.25" cy="1349" r="9.2"/>
<circle cx="396.3" cy="1349" r="9.2"/>
<circle cx="433.35" cy="1349" r="9.2"/>
<circle cx="470.4" cy="1349" r="9.2"/>
<circle cx="507.45" cy="1349" r="9.2"/>
<circle cx="544.5" cy="1349" r="9.2"/>
<circle cx="581.55" cy="1349" r="9.2"/>
<circle cx="618.6" cy="1349" r="9.2"/>
<circle cx="637.12" cy="1349" r="9.2"/>
<circle cx="655.65" cy="1349" r="9.2"/>
</g>
<g fill="#b073e8" stroke="#8a58b5" stroke-width="1">
<circle cx="136.95" cy="1348.51" r="9.2"/>
<circle cx="155.47" cy="1348.51" r="9.2"/>
<circle cx="174" cy="1348.51" r="9.2"/>
<circle cx="211.05" cy="1348.51" r="9.2"/>
<circle cx="248.1" cy="1348.51" r="9.2"/>
<circle cx="285.15" cy="1348.51" r="9.2"/>
<circle cx="322.2" cy="1348.51" r="9.2"/>
<circle cx="359.25" cy="1348.51" r="9.2"/>
<circle cx="396.3" cy="1348.51" r="9.2"/>
<circle cx="433.35" cy="1348.51" r="9.2"/>
<circle cx="470.4" cy="1348.51" r="9.2"/>
<circle cx="507.45" cy="1348.51" r="9.2"/>
<circle cx="544.5" cy="1348.51" r="9.2"/>
<circle cx="581.55" cy="1348.51" r="9.2"/>
<circle cx="618.6" cy="1348.51" r="9.2"/>
<circle cx="637.12" cy="1348.51" r="9.2"/>
<circle cx="655.65" cy="1348.51" r="9.2"/>
</g>
<g fill="#d49a06" stroke="#a67808" stroke-width="1">
<circle cx="136.95" cy="1349.98" r="9.2"/>
<circle cx="155.47" cy="1349.2" r="9.2"/>
<circle cx="174" cy="1348.51" r="9.2"/>
<circle cx="211.05" cy="1351.94" r="9.2"/>
<circle cx="248.1" cy="1351.94" r="9.2"/>
<circle cx="285.15" cy="1351.94" r="9.2"/>
<circle cx="322.2" cy="1351.94" r="9.2"/>
<circle cx="359.25" cy="1351.94" r="9.2"/>
<circle cx="396.3" cy="1351.94" r="9.2"/>
<circle cx="433.35" cy="1351.94" r="9.2"/>
<circle cx="470.4" cy="1351.94" r="9.2"/>
<circle cx="507.45" cy="1351.94" r="9.2"/>
<circle cx="544.5" cy="1351.94" r="9.2"/>
<circle cx="581.55" cy="1350.96" r="9.2"/>
<circle cx="618.6" cy="1348.51" r="9.2"/>
<circle cx="637.12" cy="1348.51" r="9.2"/>
<circle cx="655.65" cy="1348.51" r="9.2"/>
</g>
<g fill="#02cdd0" stroke="#06a0a4" stroke-width="1">
<circle cx="136.95" cy="1348.51" r="9.2"/>
<circle cx="155.47" cy="1352.43" r="9.2"/>
<circle cx="174" cy="1354.88" r="9.2"/>
<circle cx="211.05" cy="1366.15" r="9.2"/>
<circle cx="248.1" cy="1371.05" r="9.2"/>
<circle cx="285.15" cy="1372.03" r="9.2"/>
<circle cx="322.2" cy="1372.03" r="9.2"/>
<circle cx="359.25" cy="1372.03" r="9.2"/>
<circle cx="396.3" cy="1372.03" r="9.2"/>
<circle cx="433.35" cy="1372.03" r="9.2"/>
<circle cx="470.4" cy="1372.03" r="9.2"/>
<circle cx="507.45" cy="1372.03" r="9.2"/>
<circle cx="544.5" cy="1372.03" r="9.2"/>
<circle cx="581.55" cy="1367.62" r="9.2"/>
<circle cx="618.6" cy="1360.27" r="9.2"/>
<circle cx="637.12" cy="1355.86" r="9.2"/>
<circle cx="655.65" cy="1350.96" r="9.2"/>
</g>
<g fill="#7e4c4b" stroke="#5e3838" stroke-width="1">
<circle cx="136.95" cy="1356.35" r="9.2"/>
<circle cx="155.47" cy="1367.13" r="9.2"/>
<circle cx="174" cy="1375.95" r="9.2"/>
<circle cx="211.05" cy="1389.18" r="9.2"/>
<circle cx="248.1" cy="1398" r="9.2"/>
<circle cx="285.15" cy="1403.88" r="9.2"/>
<circle cx="322.2" cy="1405.35" r="9.2"/>
<circle cx="359.25" cy="1405.84" r="9.2"/>
<circle cx="396.3" cy="1405.84" r="9.2"/>
<circle cx="433.35" cy="1405.84" r="9.2"/>
<circle cx="470.4" cy="1405.84" r="9.2"/>
<circle cx="507.45" cy="1404.37" r="9.2"/>
<circle cx="544.5" cy="1400.94" r="9.2"/>
<circle cx="581.55" cy="1393.1" r="9.2"/>
<circle cx="618.6" cy="1381.83" r="9.2"/>
<circle cx="637.12" cy="1374.97" r="9.2"/>
<circle cx="655.65" cy="1366.15" r="9.2"/>
</g>
<g fill="#8c8e04" stroke="#6a6c08" stroke-width="1">
<circle cx="136.95" cy="1374.48" r="9.2"/>
<circle cx="155.47" cy="1382.32" r="9.2"/>
<circle cx="174" cy="1394.08" r="9.2"/>
<circle cx="211.05" cy="1413.19" r="9.2"/>
<circle cx="248.1" cy="1433.77" r="9.2"/>
<circle cx="285.15" cy="1451.41" r="9.2"/>
<circle cx="322.2" cy="1458.76" r="9.2"/>
<circle cx="359.25" cy="1459.74" r="9.2"/>
<circle cx="396.3" cy="1459.74" r="9.2"/>
<circle cx="433.35" cy="1459.74" r="9.2"/>
<circle cx="470.4" cy="1459.25" r="9.2"/>
<circle cx="507.45" cy="1455.82" r="9.2"/>
<circle cx="544.5" cy="1444.06" r="9.2"/>
<circle cx="581.55" cy="1425.44" r="9.2"/>
<circle cx="618.6" cy="1404.86" r="9.2"/>
<circle cx="637.12" cy="1396.53" r="9.2"/>
<circle cx="655.65" cy="1388.2" r="9.2"/>
</g>
<g fill="#fd6206" stroke="#c44a08" stroke-width="1">
<circle cx="136.95" cy="1383.79" r="9.2"/>
<circle cx="155.47" cy="1393.1" r="9.2"/>
<circle cx="174" cy="1407.8" r="9.2"/>
<circle cx="211.05" cy="1439.65" r="9.2"/>
<circle cx="248.1" cy="1472.97" r="9.2"/>
<circle cx="285.15" cy="1497.96" r="9.2"/>
<circle cx="322.2" cy="1516.09" r="9.2"/>
<circle cx="359.25" cy="1522.95" r="9.2"/>
<circle cx="396.3" cy="1523.44" r="9.2"/>
<circle cx="433.35" cy="1523.44" r="9.2"/>
<circle cx="470.4" cy="1521.48" r="9.2"/>
<circle cx="507.45" cy="1513.64" r="9.2"/>
<circle cx="544.5" cy="1494.04" r="9.2"/>
<circle cx="581.55" cy="1467.09" r="9.2"/>
<circle cx="618.6" cy="1435.24" r="9.2"/>
<circle cx="637.12" cy="1421.03" r="9.2"/>
<circle cx="655.65" cy="1408.78" r="9.2"/>
</g>
<g fill="#6498d4" stroke="#4c76a8" stroke-width="1">
<circle cx="136.95" cy="1363.7" r="9.2"/>
<circle cx="155.47" cy="1371.3" r="9.2"/>
<circle cx="174" cy="1386.24" r="9.2"/>
<circle cx="211.05" cy="1425.93" r="9.2"/>
<circle cx="248.1" cy="1469.05" r="9.2"/>
<circle cx="285.15" cy="1513.15" r="9.2"/>
<circle cx="322.2" cy="1546.96" r="9.2"/>
<circle cx="359.25" cy="1565.58" r="9.2"/>
<circle cx="396.3" cy="1571.46" r="9.2"/>
<circle cx="433.35" cy="1571.46" r="9.2"/>
<circle cx="470.4" cy="1572.44" r="9.2"/>
<circle cx="507.45" cy="1564.11" r="9.2"/>
<circle cx="544.5" cy="1543.04" r="9.2"/>
<circle cx="581.55" cy="1509.23" r="9.2"/>
<circle cx="618.6" cy="1471.01" r="9.2"/>
<circle cx="637.12" cy="1451.9" r="9.2"/>
<circle cx="655.65" cy="1435.24" r="9.2"/>
</g>
<rect x="117.5" y="1314.7" width="557" height="304.5" fill="none" stroke="#000" stroke-width="2.8"/>
<path d="M136.95 1619.2V1623.6M174 1619.2V1626.1M211.05 1619.2V1623.6M248.1 1619.2V1626.1M285.15 1619.2V1623.6M322.2 1619.2V1626.1M359.25 1619.2V1623.6M396.3 1619.2V1626.1M433.35 1619.2V1623.6M470.4 1619.2V1626.1M507.45 1619.2V1623.6M544.5 1619.2V1626.1M581.55 1619.2V1623.6M618.6 1619.2V1626.1M655.65 1619.2V1623.6" stroke="#000" stroke-width="1.6" fill="none"/>
<path d="M117.5 1608.7H110.6M117.5 1584.2H105.1M117.5 1559.7H110.6M117.5 1535.2H105.1M117.5 1510.7H110.6M117.5 1486.2H105.1M117.5 1461.7H110.6M117.5 1437.2H105.1M117.5 1412.7H110.6M117.5 1388.2H105.1M117.5 1363.7H110.6M117.5 1339.2H105.1M117.5 1314.7H110.6" stroke="#000" stroke-width="2.6" fill="none"/>
<g font-family="'Liberation Sans', sans-serif" font-weight="bold" font-size="31.5" fill="#000">
<text x="174" y="1654.4" text-anchor="middle">0.0</text>
<text x="248.1" y="1654.4" text-anchor="middle">0.2</text>
<text x="322.2" y="1654.4" text-anchor="middle">0.4</text>
<text x="396.3" y="1654.4" text-anchor="middle">0.6</text>
<text x="470.4" y="1654.4" text-anchor="middle">0.8</text>
<text x="544.5" y="1654.4" text-anchor="middle">1.0</text>
<text x="618.6" y="1654.4" text-anchor="middle">1.2</text>
<text x="97" y="1594" text-anchor="end">0.4</text>
<text x="97" y="1545" text-anchor="end">0.5</text>
<text x="97" y="1496" text-anchor="end">0.6</text>
<text x="97" y="1447" text-anchor="end">0.7</text>
<text x="97" y="1398" text-anchor="end">0.8</text>
<text x="97" y="1349" text-anchor="end">0.9</text>
</g>
<text x="396" y="1699" font-family="'Liberation Sans', sans-serif" font-weight="bold" font-size="32" text-anchor="middle">Energy level (eV)</text>
<text transform="translate(33,1466.95) rotate(-90)" font-family="'Liberation Sans', sans-serif" font-weight="bold" font-size="31" text-anchor="middle">V<tspan font-size="21.5" dy="8">OC</tspan><tspan dy="-8"> (V)</tspan></text>
<text x="1.5" y="1322" font-family="'Liberation Sans', sans-serif" font-weight="bold" font-size="36">(d)</text>
<text x="649.5" y="1605.5" font-family="'Liberation Sans', sans-serif" font-weight="bold" font-size="32" text-anchor="end">BaS</text>
<g fill="none" stroke="#767676" stroke-width="1.35" stroke-dasharray="1.5 2.0">
<polyline points="136.95,1777.39 155.47,1777.39 174,1777.39 211.05,1777.39 248.1,1777.39 285.15,1777.39 322.2,1777.39 359.25,1777.39 396.3,1777.39 433.35,1777.39 470.4,1777.39 507.45,1777.39 544.5,1777.39 581.55,1777.39 618.6,1777.39 637.12,1777.39 655.65,1777.39"/>
<polyline points="136.95,1777.39 155.47,1777.39 174,1777.39 211.05,1777.39 248.1,1777.39 285.15,1777.39 322.2,1777.39 359.25,1777.39 396.3,1777.39 433.35,1777.39 470.4,1777.39 507.45,1777.39 544.5,1777.39 581.55,1777.39 618.6,1777.39 637.12,1777.39 655.65,1777.39"/>
<polyline points="136.95,1776.9 155.47,1776.9 174,1776.9 211.05,1776.9 248.1,1776.9 285.15,1776.9 322.2,1776.9 359.25,1776.9 396.3,1776.9 433.35,1776.9 470.4,1776.9 507.45,1776.9 544.5,1776.9 581.55,1776.9 618.6,1776.9 637.12,1776.9 655.65,1776.9"/>
<polyline points="136.95,1775.42 155.47,1775.42 174,1775.22 211.05,1775.22 248.1,1775.91 285.15,1775.91 322.2,1775.91 359.25,1775.91 396.3,1775.91 433.35,1775.91 470.4,1775.91 507.45,1775.91 544.5,1775.91 581.55,1775.42 618.6,1775.22 637.12,1775.22 655.65,1775.22"/>
<polyline points="136.95,1774.93 155.47,1774.93 174,1779.36 211.05,1786.75 248.1,1790.69 285.15,1790.69 322.2,1790.69 359.25,1790.69 396.3,1790.69 433.35,1790.69 470.4,1790.69 507.45,1790.69 544.5,1790.69 581.55,1787.24 618.6,1781.33 637.12,1777.88 655.65,1774.93"/>
<polyline points="136.95,1780.34 155.47,1786.9 174,1794.88 211.05,1807.44 248.1,1815.81 285.15,1821.23 322.2,1823.2 359.25,1823.2 396.3,1823.2 433.35,1823.2 470.4,1823.2 507.45,1822.22 544.5,1818.77 581.55,1810.39 618.6,1800.05 637.12,1794.14 655.65,1786.75"/>
<polyline points="136.95,1790.89 155.47,1801.53 174,1810.89 211.05,1831.58 248.1,1851.77 285.15,1869.51 322.2,1876.89 359.25,1877.39 396.3,1877.39 433.35,1877.39 470.4,1876.89 507.45,1873.94 544.5,1862.12 581.55,1842.9 618.6,1823.2 637.12,1814.83 655.65,1805.96"/>
<polyline points="136.95,1800.05 155.47,1810.2 174,1824.19 211.05,1857.19 248.1,1889.21 285.15,1915.81 322.2,1934.04 359.25,1939.95 396.3,1940.44 433.35,1940.44 470.4,1938.96 507.45,1931.08 544.5,1911.87 581.55,1883.79 618.6,1852.76 637.12,1838.47 655.65,1827.14"/>
<polyline points="136.95,1810.39 155.47,1822.22 174,1837.98 211.05,1877.88 248.1,1920.74 285.15,1951.28 322.2,1976.89 359.25,1994.13 396.3,1999.06 433.35,1999.06 470.4,1995.12 507.45,1980.83 544.5,1958.67 581.55,1925.17 618.6,1888.22 637.12,1869.01 655.65,1851.77"/>
</g>
<g fill="#1a6ee0" stroke="#1655a8" stroke-width="1">
<circle cx="136.95" cy="1777.39" r="9.2"/>
<circle cx="155.47" cy="1777.39" r="9.2"/>
<circle cx="174" cy="1777.39" r="9.2"/>
<circle cx="211.05" cy="1777.39" r="9.2"/>
<circle cx="248.1" cy="1777.39" r="9.2"/>
<circle cx="285.15" cy="1777.39" r="9.2"/>
<circle cx="322.2" cy="1777.39" r="9.2"/>
<circle cx="359.25" cy="1777.39" r="9.2"/>
<circle cx="396.3" cy="1777.39" r="9.2"/>
<circle cx="433.35" cy="1777.39" r="9.2"/>
<circle cx="470.4" cy="1777.39" r="9.2"/>
<circle cx="507.45" cy="1777.39" r="9.2"/>
<circle cx="544.5" cy="1777.39" r="9.2"/>
<circle cx="581.55" cy="1777.39" r="9.2"/>
<circle cx="618.6" cy="1777.39" r="9.2"/>
<circle cx="637.12" cy="1777.39" r="9.2"/>
<circle cx="655.65" cy="1777.39" r="9.2"/>
</g>
<g fill="#2eaa62" stroke="#24844c" stroke-width="1">
<circle cx="136.95" cy="1777.39" r="9.2"/>
<circle cx="155.47" cy="1777.39" r="9.2"/>
<circle cx="174" cy="1777.39" r="9.2"/>
<circle cx="211.05" cy="1777.39" r="9.2"/>
<circle cx="248.1" cy="1777.39" r="9.2"/>
<circle cx="285.15" cy="1777.39" r="9.2"/>
<circle cx="322.2" cy="1777.39" r="9.2"/>
<circle cx="359.25" cy="1777.39" r="9.2"/>
<circle cx="396.3" cy="1777.39" r="9.2"/>
<circle cx="433.35" cy="1777.39" r="9.2"/>
<circle cx="470.4" cy="1777.39" r="9.2"/>
<circle cx="507.45" cy="1777.39" r="9.2"/>
<circle cx="544.5" cy="1777.39" r="9.2"/>
<circle cx="581.55" cy="1777.39" r="9.2"/>
<circle cx="618.6" cy="1777.39" r="9.2"/>
<circle cx="637.12" cy="1777.39" r="9.2"/>
<circle cx="655.65" cy="1777.39" r="9.2"/>
</g>
<g fill="#b073e8" stroke="#8a58b5" stroke-width="1">
<circle cx="136.95" cy="1776.9" r="9.2"/>
<circle cx="155.47" cy="1776.9" r="9.2"/>
<circle cx="174" cy="1776.9" r="9.2"/>
<circle cx="211.05" cy="1776.9" r="9.2"/>
<circle cx="248.1" cy="1776.9" r="9.2"/>
<circle cx="285.15" cy="1776.9" r="9.2"/>
<circle cx="322.2" cy="1776.9" r="9.2"/>
<circle cx="359.25" cy="1776.9" r="9.2"/>
<circle cx="396.3" cy="1776.9" r="9.2"/>
<circle cx="433.35" cy="1776.9" r="9.2"/>
<circle cx="470.4" cy="1776.9" r="9.2"/>
<circle cx="507.45" cy="1776.9" r="9.2"/>
<circle cx="544.5" cy="1776.9" r="9.2"/>
<circle cx="581.55" cy="1776.9" r="9.2"/>
<circle cx="618.6" cy="1776.9" r="9.2"/>
<circle cx="637.12" cy="1776.9" r="9.2"/>
<circle cx="655.65" cy="1776.9" r="9.2"/>
</g>
<g fill="#d49a06" stroke="#a67808" stroke-width="1">
<circle cx="136.95" cy="1775.42" r="9.2"/>
<circle cx="155.47" cy="1775.42" r="9.2"/>
<circle cx="174" cy="1775.22" r="9.2"/>
<circle cx="211.05" cy="1775.22" r="9.2"/>
<circle cx="248.1" cy="1775.91" r="9.2"/>
<circle cx="285.15" cy="1775.91" r="9.2"/>
<circle cx="322.2" cy="1775.91" r="9.2"/>
<circle cx="359.25" cy="1775.91" r="9.2"/>
<circle cx="396.3" cy="1775.91" r="9.2"/>
<circle cx="433.35" cy="1775.91" r="9.2"/>
<circle cx="470.4" cy="1775.91" r="9.2"/>
<circle cx="507.45" cy="1775.91" r="9.2"/>
<circle cx="544.5" cy="1775.91" r="9.2"/>
<circle cx="581.55" cy="1775.42" r="9.2"/>
<circle cx="618.6" cy="1775.22" r="9.2"/>
<circle cx="637.12" cy="1775.22" r="9.2"/>
<circle cx="655.65" cy="1775.22" r="9.2"/>
</g>
<g fill="#02cdd0" stroke="#06a0a4" stroke-width="1">
<circle cx="136.95" cy="1774.93" r="9.2"/>
<circle cx="155.47" cy="1774.93" r="9.2"/>
<circle cx="174" cy="1779.36" r="9.2"/>
<circle cx="211.05" cy="1786.75" r="9.2"/>
<circle cx="248.1" cy="1790.69" r="9.2"/>
<circle cx="285.15" cy="1790.69" r="9.2"/>
<circle cx="322.2" cy="1790.69" r="9.2"/>
<circle cx="359.25" cy="1790.69" r="9.2"/>
<circle cx="396.3" cy="1790.69" r="9.2"/>
<circle cx="433.35" cy="1790.69" r="9.2"/>
<circle cx="470.4" cy="1790.69" r="9.2"/>
<circle cx="507.45" cy="1790.69" r="9.2"/>
<circle cx="544.5" cy="1790.69" r="9.2"/>
<circle cx="581.55" cy="1787.24" r="9.2"/>
<circle cx="618.6" cy="1781.33" r="9.2"/>
<circle cx="637.12" cy="1777.88" r="9.2"/>
<circle cx="655.65" cy="1774.93" r="9.2"/>
</g>
<g fill="#7e4c4b" stroke="#5e3838" stroke-width="1">
<circle cx="136.95" cy="1780.34" r="9.2"/>
<circle cx="155.47" cy="1786.9" r="9.2"/>
<circle cx="174" cy="1794.88" r="9.2"/>
<circle cx="211.05" cy="1807.44" r="9.2"/>
<circle cx="248.1" cy="1815.81" r="9.2"/>
<circle cx="285.15" cy="1821.23" r="9.2"/>
<circle cx="322.2" cy="1823.2" r="9.2"/>
<circle cx="359.25" cy="1823.2" r="9.2"/>
<circle cx="396.3" cy="1823.2" r="9.2"/>
<circle cx="433.35" cy="1823.2" r="9.2"/>
<circle cx="470.4" cy="1823.2" r="9.2"/>
<circle cx="507.45" cy="1822.22" r="9.2"/>
<circle cx="544.5" cy="1818.77" r="9.2"/>
<circle cx="581.55" cy="1810.39" r="9.2"/>
<circle cx="618.6" cy="1800.05" r="9.2"/>
<circle cx="637.12" cy="1794.14" r="9.2"/>
<circle cx="655.65" cy="1786.75" r="9.2"/>
</g>
<g fill="#8c8e04" stroke="#6a6c08" stroke-width="1">
<circle cx="136.95" cy="1790.89" r="9.2"/>
<circle cx="155.47" cy="1801.53" r="9.2"/>
<circle cx="174" cy="1810.89" r="9.2"/>
<circle cx="211.05" cy="1831.58" r="9.2"/>
<circle cx="248.1" cy="1851.77" r="9.2"/>
<circle cx="285.15" cy="1869.51" r="9.2"/>
<circle cx="322.2" cy="1876.89" r="9.2"/>
<circle cx="359.25" cy="1877.39" r="9.2"/>
<circle cx="396.3" cy="1877.39" r="9.2"/>
<circle cx="433.35" cy="1877.39" r="9.2"/>
<circle cx="470.4" cy="1876.89" r="9.2"/>
<circle cx="507.45" cy="1873.94" r="9.2"/>
<circle cx="544.5" cy="1862.12" r="9.2"/>
<circle cx="581.55" cy="1842.9" r="9.2"/>
<circle cx="618.6" cy="1823.2" r="9.2"/>
<circle cx="637.12" cy="1814.83" r="9.2"/>
<circle cx="655.65" cy="1805.96" r="9.2"/>
</g>
<g fill="#fd6206" stroke="#c44a08" stroke-width="1">
<circle cx="136.95" cy="1800.05" r="9.2"/>
<circle cx="155.47" cy="1810.2" r="9.2"/>
<circle cx="174" cy="1824.19" r="9.2"/>
<circle cx="211.05" cy="1857.19" r="9.2"/>
<circle cx="248.1" cy="1889.21" r="9.2"/>
<circle cx="285.15" cy="1915.81" r="9.2"/>
<circle cx="322.2" cy="1934.04" r="9.2"/>
<circle cx="359.25" cy="1939.95" r="9.2"/>
<circle cx="396.3" cy="1940.44" r="9.2"/>
<circle cx="433.35" cy="1940.44" r="9.2"/>
<circle cx="470.4" cy="1938.96" r="9.2"/>
<circle cx="507.45" cy="1931.08" r="9.2"/>
<circle cx="544.5" cy="1911.87" r="9.2"/>
<circle cx="581.55" cy="1883.79" r="9.2"/>
<circle cx="618.6" cy="1852.76" r="9.2"/>
<circle cx="637.12" cy="1838.47" r="9.2"/>
<circle cx="655.65" cy="1827.14" r="9.2"/>
</g>
<g fill="#6498d4" stroke="#4c76a8" stroke-width="1">
<circle cx="136.95" cy="1810.39" r="9.2"/>
<circle cx="155.47" cy="1822.22" r="9.2"/>
<circle cx="174" cy="1837.98" r="9.2"/>
<circle cx="211.05" cy="1877.88" r="9.2"/>
<circle cx="248.1" cy="1920.74" r="9.2"/>
<circle cx="285.15" cy="1951.28" r="9.2"/>
<circle cx="322.2" cy="1976.89" r="9.2"/>
<circle cx="359.25" cy="1994.13" r="9.2"/>
<circle cx="396.3" cy="1999.06" r="9.2"/>
<circle cx="433.35" cy="1999.06" r="9.2"/>
<circle cx="470.4" cy="1995.12" r="9.2"/>
<circle cx="507.45" cy="1980.83" r="9.2"/>
<circle cx="544.5" cy="1958.67" r="9.2"/>
<circle cx="581.55" cy="1925.17" r="9.2"/>
<circle cx="618.6" cy="1888.22" r="9.2"/>
<circle cx="637.12" cy="1869.01" r="9.2"/>
<circle cx="655.65" cy="1851.77" r="9.2"/>
</g>
<rect x="117.5" y="1731.7" width="557" height="306.3" fill="none" stroke="#000" stroke-width="2.8"/>
<path d="M136.95 2038V2045.4M174 2038V2050.9M211.05 2038V2045.4M248.1 2038V2050.9M285.15 2038V2045.4M322.2 2038V2050.9M359.25 2038V2045.4M396.3 2038V2050.9M433.35 2038V2045.4M470.4 2038V2050.9M507.45 2038V2045.4M544.5 2038V2050.9M581.55 2038V2045.4M618.6 2038V2050.9M655.65 2038V2045.4" stroke="#000" stroke-width="2.6" fill="none"/>
<path d="M117.5 2027.63H110.6M117.5 2003H105.1M117.5 1978.37H110.6M117.5 1953.74H105.1M117.5 1929.11H110.6M117.5 1904.48H105.1M117.5 1879.85H110.6M117.5 1855.22H105.1M117.5 1830.59H110.6M117.5 1805.96H105.1M117.5 1781.33H110.6M117.5 1756.7H105.1M117.5 1732.07H110.6" stroke="#000" stroke-width="2.6" fill="none"/>
<g font-family="'Liberation Sans', sans-serif" font-weight="bold" font-size="31.5" fill="#000">
<text x="174" y="2082.4" text-anchor="middle">0.0</text>
<text x="248.1" y="2082.4" text-anchor="middle">0.2</text>
<text x="322.2" y="2082.4" text-anchor="middle">0.4</text>
<text x="396.3" y="2082.4" text-anchor="middle">0.6</text>
<text x="470.4" y="2082.4" text-anchor="middle">0.8</text>
<text x="544.5" y="2082.4" text-anchor="middle">1.0</text>
<text x="618.6" y="2082.4" text-anchor="middle">1.2</text>
<text x="97" y="2012.8" text-anchor="end">0.4</text>
<text x="97" y="1963.54" text-anchor="end">0.5</text>
<text x="97" y="1914.28" text-anchor="end">0.6</text>
<text x="97" y="1865.02" text-anchor="end">0.7</text>
<text x="97" y="1815.76" text-anchor="end">0.8</text>
<text x="97" y="1766.5" text-anchor="end">0.9</text>
</g>
<text x="396" y="2120" font-family="'Liberation Sans', sans-serif" font-weight="bold" font-size="32" text-anchor="middle">Energy level (eV)</text>
<text transform="translate(33,1884.85) rotate(-90)" font-family="'Liberation Sans', sans-serif" font-weight="bold" font-size="31" text-anchor="middle">V<tspan font-size="21.5" dy="8">OC</tspan><tspan dy="-8"> (V)</tspan></text>
<text x="4.3" y="1726.8" font-family="'Liberation Sans', sans-serif" font-weight="bold" font-size="36">(e)</text>
<text x="660.5" y="2015.5" font-family="'Liberation Sans', sans-serif" font-weight="bold" font-size="32" text-anchor="end">CdS</text>
<g fill="none" stroke="#767676" stroke-width="1.35" stroke-dasharray="1.5 2.0">
<polyline points="915.46,48.57 933.98,48.57 952.5,48.57 989.54,48.57 1026.58,48.57 1063.62,48.57 1100.66,48.57 1137.7,48.57 1174.74,48.57 1211.78,48.57 1248.82,48.57 1285.86,48.57 1322.9,48.57 1359.94,48.57 1396.98,48.57 1415.5,48.57 1434.02,48.57"/>
<polyline points="915.46,48.57 933.98,48.57 952.5,48.57 989.54,48.57 1026.58,48.57 1063.62,48.57 1100.66,48.57 1137.7,48.57 1174.74,48.57 1211.78,48.57 1248.82,48.57 1285.86,48.57 1322.9,48.57 1359.94,48.57 1396.98,48.57 1415.5,48.57 1434.02,48.57"/>
<polyline points="915.46,48.57 933.98,48.57 952.5,48.57 989.54,48.57 1026.58,48.57 1063.62,48.57 1100.66,48.57 1137.7,48.57 1174.74,48.57 1211.78,48.57 1248.82,48.57 1285.86,48.57 1322.9,48.57 1359.94,48.57 1396.98,48.57 1415.5,48.57 1434.02,48.57"/>
<polyline points="915.46,48.57 933.98,48.57 952.5,48.57 989.54,48.57 1026.58,48.57 1063.62,48.57 1100.66,48.57 1137.7,48.57 1174.74,48.57 1211.78,48.57 1248.82,48.57 1285.86,48.57 1322.9,48.57 1359.94,48.57 1396.98,48.57 1415.5,48.57 1434.02,48.57"/>
<polyline points="915.46,48.57 933.98,48.57 952.5,50.13 989.54,55.99 1026.58,58.72 1063.62,59.5 1100.66,59.5 1137.7,59.5 1174.74,59.5 1211.78,59.5 1248.82,59.5 1285.86,59.11 1322.9,58.72 1359.94,54.82 1396.98,48.96 1415.5,48.57 1434.02,48.57"/>
<polyline points="915.46,52.47 933.98,60.28 952.5,70.44 989.54,93.87 1026.58,101.68 1063.62,103.24 1100.66,103.24 1137.7,103.24 1174.74,103.24 1211.78,103.24 1248.82,103.24 1285.86,102.85 1322.9,100.11 1359.94,89.57 1396.98,65.98 1415.5,55.6 1434.02,48.96"/>
<polyline points="915.46,85.27 933.98,115.73 952.5,135.57 989.54,164.16 1026.58,171.58 1063.62,171.97 1100.66,171.18 1137.7,170.4 1174.74,170.01 1211.78,170.01 1248.82,169.62 1285.86,168.84 1322.9,167.28 1359.94,154.39 1396.98,118.39 1415.5,90.74 1434.02,64.97"/>
<polyline points="915.46,193.05 933.98,217.26 952.5,234.45 989.54,250.07 1026.58,251.63 1063.62,247.72 1100.66,243.82 1137.7,241.47 1174.74,239.91 1211.78,237.96 1248.82,236.79 1285.86,235.23 1322.9,232.1 1359.94,221.17 1396.98,186.41 1415.5,155.56 1434.02,117.3"/>
<polyline points="915.46,290.99 933.98,301.07 952.5,307.08 989.54,309.66 1026.58,308.41 1063.62,303.56 1100.66,296.93 1137.7,292.24 1174.74,289.58 1211.78,285.99 1248.82,282.87 1285.86,279.74 1322.9,275.84 1359.94,268.42 1396.98,245.61 1415.5,221.56 1434.02,185.24"/>
</g>
<g fill="#1a6ee0" stroke="#1655a8" stroke-width="1">
<rect x="906.86" y="39.97" width="17.2" height="17.2"/>
<rect x="925.38" y="39.97" width="17.2" height="17.2"/>
<rect x="943.9" y="39.97" width="17.2" height="17.2"/>
<rect x="980.94" y="39.97" width="17.2" height="17.2"/>
<rect x="1017.98" y="39.97" width="17.2" height="17.2"/>
<rect x="1055.02" y="39.97" width="17.2" height="17.2"/>
<rect x="1092.06" y="39.97" width="17.2" height="17.2"/>
<rect x="1129.1" y="39.97" width="17.2" height="17.2"/>
<rect x="1166.14" y="39.97" width="17.2" height="17.2"/>
<rect x="1203.18" y="39.97" width="17.2" height="17.2"/>
<rect x="1240.22" y="39.97" width="17.2" height="17.2"/>
<rect x="1277.26" y="39.97" width="17.2" height="17.2"/>
<rect x="1314.3" y="39.97" width="17.2" height="17.2"/>
<rect x="1351.34" y="39.97" width="17.2" height="17.2"/>
<rect x="1388.38" y="39.97" width="17.2" height="17.2"/>
<rect x="1406.9" y="39.97" width="17.2" height="17.2"/>
<rect x="1425.42" y="39.97" width="17.2" height="17.2"/>
</g>
<g fill="#2eaa62" stroke="#24844c" stroke-width="1">
<rect x="906.86" y="39.97" width="17.2" height="17.2"/>
<rect x="925.38" y="39.97" width="17.2" height="17.2"/>
<rect x="943.9" y="39.97" width="17.2" height="17.2"/>
<rect x="980.94" y="39.97" width="17.2" height="17.2"/>
<rect x="1017.98" y="39.97" width="17.2" height="17.2"/>
<rect x="1055.02" y="39.97" width="17.2" height="17.2"/>
<rect x="1092.06" y="39.97" width="17.2" height="17.2"/>
<rect x="1129.1" y="39.97" width="17.2" height="17.2"/>
<rect x="1166.14" y="39.97" width="17.2" height="17.2"/>
<rect x="1203.18" y="39.97" width="17.2" height="17.2"/>
<rect x="1240.22" y="39.97" width="17.2" height="17.2"/>
<rect x="1277.26" y="39.97" width="17.2" height="17.2"/>
<rect x="1314.3" y="39.97" width="17.2" height="17.2"/>
<rect x="1351.34" y="39.97" width="17.2" height="17.2"/>
<rect x="1388.38" y="39.97" width="17.2" height="17.2"/>
<rect x="1406.9" y="39.97" width="17.2" height="17.2"/>
<rect x="1425.42" y="39.97" width="17.2" height="17.2"/>
</g>
<g fill="#b073e8" stroke="#8a58b5" stroke-width="1">
<rect x="906.86" y="39.97" width="17.2" height="17.2"/>
<rect x="925.38" y="39.97" width="17.2" height="17.2"/>
<rect x="943.9" y="39.97" width="17.2" height="17.2"/>
<rect x="980.94" y="39.97" width="17.2" height="17.2"/>
<rect x="1017.98" y="39.97" width="17.2" height="17.2"/>
<rect x="1055.02" y="39.97" width="17.2" height="17.2"/>
<rect x="1092.06" y="39.97" width="17.2" height="17.2"/>
<rect x="1129.1" y="39.97" width="17.2" height="17.2"/>
<rect x="1166.14" y="39.97" width="17.2" height="17.2"/>
<rect x="1203.18" y="39.97" width="17.2" height="17.2"/>
<rect x="1240.22" y="39.97" width="17.2" height="17.2"/>
<rect x="1277.26" y="39.97" width="17.2" height="17.2"/>
<rect x="1314.3" y="39.97" width="17.2" height="17.2"/>
<rect x="1351.34" y="39.97" width="17.2" height="17.2"/>
<rect x="1388.38" y="39.97" width="17.2" height="17.2"/>
<rect x="1406.9" y="39.97" width="17.2" height="17.2"/>
<rect x="1425.42" y="39.97" width="17.2" height="17.2"/>
</g>
<g fill="#d49a06" stroke="#a67808" stroke-width="1">
<rect x="906.86" y="39.97" width="17.2" height="17.2"/>
<rect x="925.38" y="39.97" width="17.2" height="17.2"/>
<rect x="943.9" y="39.97" width="17.2" height="17.2"/>
<rect x="980.94" y="39.97" width="17.2" height="17.2"/>
<rect x="1017.98" y="39.97" width="17.2" height="17.2"/>
<rect x="1055.02" y="39.97" width="17.2" height="17.2"/>
<rect x="1092.06" y="39.97" width="17.2" height="17.2"/>
<rect x="1129.1" y="39.97" width="17.2" height="17.2"/>
<rect x="1166.14" y="39.97" width="17.2" height="17.2"/>
<rect x="1203.18" y="39.97" width="17.2" height="17.2"/>
<rect x="1240.22" y="39.97" width="17.2" height="17.2"/>
<rect x="1277.26" y="39.97" width="17.2" height="17.2"/>
<rect x="1314.3" y="39.97" width="17.2" height="17.2"/>
<rect x="1351.34" y="39.97" width="17.2" height="17.2"/>
<rect x="1388.38" y="39.97" width="17.2" height="17.2"/>
<rect x="1406.9" y="39.97" width="17.2" height="17.2"/>
<rect x="1425.42" y="39.97" width="17.2" height="17.2"/>
</g>
<g fill="#02cdd0" stroke="#06a0a4" stroke-width="1">
<rect x="906.86" y="39.97" width="17.2" height="17.2"/>
<rect x="925.38" y="39.97" width="17.2" height="17.2"/>
<rect x="943.9" y="41.53" width="17.2" height="17.2"/>
<rect x="980.94" y="47.39" width="17.2" height="17.2"/>
<rect x="1017.98" y="50.12" width="17.2" height="17.2"/>
<rect x="1055.02" y="50.9" width="17.2" height="17.2"/>
<rect x="1092.06" y="50.9" width="17.2" height="17.2"/>
<rect x="1129.1" y="50.9" width="17.2" height="17.2"/>
<rect x="1166.14" y="50.9" width="17.2" height="17.2"/>
<rect x="1203.18" y="50.9" width="17.2" height="17.2"/>
<rect x="1240.22" y="50.9" width="17.2" height="17.2"/>
<rect x="1277.26" y="50.51" width="17.2" height="17.2"/>
<rect x="1314.3" y="50.12" width="17.2" height="17.2"/>
<rect x="1351.34" y="46.22" width="17.2" height="17.2"/>
<rect x="1388.38" y="40.36" width="17.2" height="17.2"/>
<rect x="1406.9" y="39.97" width="17.2" height="17.2"/>
<rect x="1425.42" y="39.97" width="17.2" height="17.2"/>
</g>
<g fill="#7e4c4b" stroke="#5e3838" stroke-width="1">
<rect x="906.86" y="43.87" width="17.2" height="17.2"/>
<rect x="925.38" y="51.68" width="17.2" height="17.2"/>
<rect x="943.9" y="61.84" width="17.2" height="17.2"/>
<rect x="980.94" y="85.27" width="17.2" height="17.2"/>
<rect x="1017.98" y="93.08" width="17.2" height="17.2"/>
<rect x="1055.02" y="94.64" width="17.2" height="17.2"/>
<rect x="1092.06" y="94.64" width="17.2" height="17.2"/>
<rect x="1129.1" y="94.64" width="17.2" height="17.2"/>
<rect x="1166.14" y="94.64" width="17.2" height="17.2"/>
<rect x="1203.18" y="94.64" width="17.2" height="17.2"/>
<rect x="1240.22" y="94.64" width="17.2" height="17.2"/>
<rect x="1277.26" y="94.25" width="17.2" height="17.2"/>
<rect x="1314.3" y="91.51" width="17.2" height="17.2"/>
<rect x="1351.34" y="80.97" width="17.2" height="17.2"/>
<rect x="1388.38" y="57.38" width="17.2" height="17.2"/>
<rect x="1406.9" y="47" width="17.2" height="17.2"/>
<rect x="1425.42" y="40.36" width="17.2" height="17.2"/>
</g>
<g fill="#8c8e04" stroke="#6a6c08" stroke-width="1">
<rect x="906.86" y="76.67" width="17.2" height="17.2"/>
<rect x="925.38" y="107.13" width="17.2" height="17.2"/>
<rect x="943.9" y="126.97" width="17.2" height="17.2"/>
<rect x="980.94" y="155.56" width="17.2" height="17.2"/>
<rect x="1017.98" y="162.98" width="17.2" height="17.2"/>
<rect x="1055.02" y="163.37" width="17.2" height="17.2"/>
<rect x="1092.06" y="162.58" width="17.2" height="17.2"/>
<rect x="1129.1" y="161.8" width="17.2" height="17.2"/>
<rect x="1166.14" y="161.41" width="17.2" height="17.2"/>
<rect x="1203.18" y="161.41" width="17.2" height="17.2"/>
<rect x="1240.22" y="161.02" width="17.2" height="17.2"/>
<rect x="1277.26" y="160.24" width="17.2" height="17.2"/>
<rect x="1314.3" y="158.68" width="17.2" height="17.2"/>
<rect x="1351.34" y="145.79" width="17.2" height="17.2"/>
<rect x="1388.38" y="109.79" width="17.2" height="17.2"/>
<rect x="1406.9" y="82.14" width="17.2" height="17.2"/>
<rect x="1425.42" y="56.37" width="17.2" height="17.2"/>
</g>
<g fill="#fd6206" stroke="#c44a08" stroke-width="1">
<rect x="906.86" y="184.45" width="17.2" height="17.2"/>
<rect x="925.38" y="208.66" width="17.2" height="17.2"/>
<rect x="943.9" y="225.85" width="17.2" height="17.2"/>
<rect x="980.94" y="241.47" width="17.2" height="17.2"/>
<rect x="1017.98" y="243.03" width="17.2" height="17.2"/>
<rect x="1055.02" y="239.12" width="17.2" height="17.2"/>
<rect x="1092.06" y="235.22" width="17.2" height="17.2"/>
<rect x="1129.1" y="232.87" width="17.2" height="17.2"/>
<rect x="1166.14" y="231.31" width="17.2" height="17.2"/>
<rect x="1203.18" y="229.36" width="17.2" height="17.2"/>
<rect x="1240.22" y="228.19" width="17.2" height="17.2"/>
<rect x="1277.26" y="226.63" width="17.2" height="17.2"/>
<rect x="1314.3" y="223.5" width="17.2" height="17.2"/>
<rect x="1351.34" y="212.57" width="17.2" height="17.2"/>
<rect x="1388.38" y="177.81" width="17.2" height="17.2"/>
<rect x="1406.9" y="146.96" width="17.2" height="17.2"/>
<rect x="1425.42" y="108.7" width="17.2" height="17.2"/>
</g>
<g fill="#6498d4" stroke="#4c76a8" stroke-width="1">
<rect x="906.86" y="282.39" width="17.2" height="17.2"/>
<rect x="925.38" y="292.47" width="17.2" height="17.2"/>
<rect x="943.9" y="298.48" width="17.2" height="17.2"/>
<rect x="980.94" y="301.06" width="17.2" height="17.2"/>
<rect x="1017.98" y="299.81" width="17.2" height="17.2"/>
<rect x="1055.02" y="294.96" width="17.2" height="17.2"/>
<rect x="1092.06" y="288.33" width="17.2" height="17.2"/>
<rect x="1129.1" y="283.64" width="17.2" height="17.2"/>
<rect x="1166.14" y="280.98" width="17.2" height="17.2"/>
<rect x="1203.18" y="277.39" width="17.2" height="17.2"/>
<rect x="1240.22" y="274.27" width="17.2" height="17.2"/>
<rect x="1277.26" y="271.14" width="17.2" height="17.2"/>
<rect x="1314.3" y="267.24" width="17.2" height="17.2"/>
<rect x="1351.34" y="259.82" width="17.2" height="17.2"/>
<rect x="1388.38" y="237.01" width="17.2" height="17.2"/>
<rect x="1406.9" y="212.96" width="17.2" height="17.2"/>
<rect x="1425.42" y="176.64" width="17.2" height="17.2"/>
</g>
<rect x="897.5" y="26.7" width="556.1" height="304.7" fill="none" stroke="#000" stroke-width="2.8"/>
<path d="M915.46 331.4V338.8M952.5 331.4V344.3M989.54 331.4V338.8M1026.58 331.4V344.3M1063.62 331.4V338.8M1100.66 331.4V344.3M1137.7 331.4V338.8M1174.74 331.4V344.3M1211.78 331.4V338.8M1248.82 331.4V344.3M1285.86 331.4V338.8M1322.9 331.4V344.3M1359.94 331.4V338.8M1396.98 331.4V344.3M1434.02 331.4V338.8" stroke="#000" stroke-width="2.6" fill="none"/>
<path d="M897.5 327.38H890.6M897.5 300.05H885.1M897.5 272.71H890.6M897.5 245.38H885.1M897.5 218.04H890.6M897.5 190.71H885.1M897.5 163.37H890.6M897.5 136.04H885.1M897.5 108.7H890.6M897.5 81.37H885.1M897.5 54.03H890.6M897.5 26.7H885.1" stroke="#000" stroke-width="2.6" fill="none"/>
<g font-family="'Liberation Sans', sans-serif" font-weight="bold" font-size="31.5" fill="#000">
<text x="952.5" y="377.4" text-anchor="middle">0.0</text>
<text x="1026.58" y="377.4" text-anchor="middle">0.2</text>
<text x="1100.66" y="377.4" text-anchor="middle">0.4</text>
<text x="1174.74" y="377.4" text-anchor="middle">0.6</text>
<text x="1248.82" y="377.4" text-anchor="middle">0.8</text>
<text x="1322.9" y="377.4" text-anchor="middle">1.0</text>
<text x="1396.98" y="377.4" text-anchor="middle">1.2</text>
<text x="875.5" y="309.85" text-anchor="end">7</text>
<text x="875.5" y="255.18" text-anchor="end">14</text>
<text x="875.5" y="200.51" text-anchor="end">21</text>
<text x="875.5" y="145.84" text-anchor="end">28</text>
<text x="875.5" y="91.17" text-anchor="end">35</text>
<text x="875.5" y="36.5" text-anchor="end">42</text>
</g>
<text x="1175.55" y="426" font-family="'Liberation Sans', sans-serif" font-weight="bold" font-size="32" text-anchor="middle">Energy level (eV)</text>
<text transform="translate(819,179.05) rotate(-90)" font-family="'Liberation Sans', sans-serif" font-weight="bold" font-size="32" text-anchor="middle">J<tspan font-size="21" dy="7.5">SC</tspan><tspan dy="-7.5"> (mA/cm</tspan><tspan font-size="21" dy="-13.5">2</tspan><tspan dy="13.5">)</tspan></text>
<text x="781.5" y="38" font-family="'Liberation Sans', sans-serif" font-weight="bold" font-size="36">(f)</text>
<text x="1431.5" y="312.5" font-family="'Liberation Sans', sans-serif" font-weight="bold" font-size="32" text-anchor="end">MgS</text>
<g fill="none" stroke="#767676" stroke-width="1.35" stroke-dasharray="1.5 2.0">
<polyline points="915.46,476.36 933.98,476.36 952.5,476.36 989.54,476.36 1026.58,476.36 1063.62,476.36 1100.66,476.36 1137.7,476.36 1174.74,476.36 1211.78,476.36 1248.82,476.36 1285.86,476.36 1322.9,476.36 1359.94,476.36 1396.98,476.36 1415.5,476.36 1434.02,476.36"/>
<polyline points="915.46,476.36 933.98,476.36 952.5,476.36 989.54,476.36 1026.58,476.36 1063.62,476.36 1100.66,476.36 1137.7,476.36 1174.74,476.36 1211.78,476.36 1248.82,476.36 1285.86,476.36 1322.9,476.36 1359.94,476.36 1396.98,476.36 1415.5,476.36 1434.02,476.36"/>
<polyline points="915.46,476.36 933.98,476.36 952.5,476.36 989.54,476.36 1026.58,476.36 1063.62,476.36 1100.66,476.36 1137.7,476.36 1174.74,476.36 1211.78,476.36 1248.82,476.36 1285.86,476.36 1322.9,476.36 1359.94,476.36 1396.98,476.36 1415.5,476.36 1434.02,476.36"/>
<polyline points="915.46,476.36 933.98,476.36 952.5,476.36 989.54,476.36 1026.58,476.36 1063.62,476.36 1100.66,476.36 1137.7,476.36 1174.74,476.36 1211.78,476.36 1248.82,476.36 1285.86,476.36 1322.9,476.36 1359.94,476.36 1396.98,476.36 1415.5,476.36 1434.02,476.36"/>
<polyline points="915.46,476.36 933.98,476.36 952.5,477.62 989.54,483.43 1026.58,486.25 1063.62,486.25 1100.66,486.25 1137.7,486.25 1174.74,486.25 1211.78,486.25 1248.82,486.25 1285.86,486.25 1322.9,486.25 1359.94,484.69 1396.98,478.01 1415.5,476.36 1434.02,476.36"/>
<polyline points="915.46,479.98 933.98,486.65 952.5,497.25 989.54,519.23 1026.58,527.08 1063.62,528.64 1100.66,528.64 1137.7,528.64 1174.74,528.64 1211.78,528.64 1248.82,528.64 1285.86,528.64 1322.9,528.25 1359.94,523.39 1396.98,505.88 1415.5,494.89 1434.02,484.69"/>
<polyline points="915.46,511.38 933.98,540.03 952.5,559.26 989.54,586.74 1026.58,593.8 1063.62,593.8 1100.66,593.8 1137.7,593.41 1174.74,593.01 1211.78,593.01 1248.82,593.01 1285.86,593.01 1322.9,592.23 1359.94,586.74 1396.98,564.75 1415.5,547.09 1434.02,522.37"/>
<polyline points="915.46,612.64 933.98,633.84 952.5,651.11 989.54,665.24 1026.58,666.81 1063.62,663.66 1100.66,659.74 1137.7,658.56 1174.74,656.99 1211.78,655.81 1248.82,654.64 1285.86,653.46 1322.9,652.67 1359.94,648.75 1396.98,629.91 1415.5,612.64 1434.02,585.95"/>
<polyline points="915.46,647.57 933.98,711.55 952.5,717.05 989.54,719.4 1026.58,718.62 1063.62,713.43 1100.66,708.02 1137.7,704.01 1174.74,701.35 1211.78,698.99 1248.82,696.63 1285.86,694.28 1322.9,691.53 1359.94,688.78 1396.98,677.79 1415.5,666.81 1434.02,647.57"/>
</g>
<g fill="#1a6ee0" stroke="#1655a8" stroke-width="1">
<rect x="906.86" y="467.76" width="17.2" height="17.2"/>
<rect x="925.38" y="467.76" width="17.2" height="17.2"/>
<rect x="943.9" y="467.76" width="17.2" height="17.2"/>
<rect x="980.94" y="467.76" width="17.2" height="17.2"/>
<rect x="1017.98" y="467.76" width="17.2" height="17.2"/>
<rect x="1055.02" y="467.76" width="17.2" height="17.2"/>
<rect x="1092.06" y="467.76" width="17.2" height="17.2"/>
<rect x="1129.1" y="467.76" width="17.2" height="17.2"/>
<rect x="1166.14" y="467.76" width="17.2" height="17.2"/>
<rect x="1203.18" y="467.76" width="17.2" height="17.2"/>
<rect x="1240.22" y="467.76" width="17.2" height="17.2"/>
<rect x="1277.26" y="467.76" width="17.2" height="17.2"/>
<rect x="1314.3" y="467.76" width="17.2" height="17.2"/>
<rect x="1351.34" y="467.76" width="17.2" height="17.2"/>
<rect x="1388.38" y="467.76" width="17.2" height="17.2"/>
<rect x="1406.9" y="467.76" width="17.2" height="17.2"/>
<rect x="1425.42" y="467.76" width="17.2" height="17.2"/>
</g>
<g fill="#2eaa62" stroke="#24844c" stroke-width="1">
<rect x="906.86" y="467.76" width="17.2" height="17.2"/>
<rect x="925.38" y="467.76" width="17.2" height="17.2"/>
<rect x="943.9" y="467.76" width="17.2" height="17.2"/>
<rect x="980.94" y="467.76" width="17.2" height="17.2"/>
<rect x="1017.98" y="467.76" width="17.2" height="17.2"/>
<rect x="1055.02" y="467.76" width="17.2" height="17.2"/>
<rect x="1092.06" y="467.76" width="17.2" height="17.2"/>
<rect x="1129.1" y="467.76" width="17.2" height="17.2"/>
<rect x="1166.14" y="467.76" width="17.2" height="17.2"/>
<rect x="1203.18" y="467.76" width="17.2" height="17.2"/>
<rect x="1240.22" y="467.76" width="17.2" height="17.2"/>
<rect x="1277.26" y="467.76" width="17.2" height="17.2"/>
<rect x="1314.3" y="467.76" width="17.2" height="17.2"/>
<rect x="1351.34" y="467.76" width="17.2" height="17.2"/>
<rect x="1388.38" y="467.76" width="17.2" height="17.2"/>
<rect x="1406.9" y="467.76" width="17.2" height="17.2"/>
<rect x="1425.42" y="467.76" width="17.2" height="17.2"/>
</g>
<g fill="#b073e8" stroke="#8a58b5" stroke-width="1">
<rect x="906.86" y="467.76" width="17.2" height="17.2"/>
<rect x="925.38" y="467.76" width="17.2" height="17.2"/>
<rect x="943.9" y="467.76" width="17.2" height="17.2"/>
<rect x="980.94" y="467.76" width="17.2" height="17.2"/>
<rect x="1017.98" y="467.76" width="17.2" height="17.2"/>
<rect x="1055.02" y="467.76" width="17.2" height="17.2"/>
<rect x="1092.06" y="467.76" width="17.2" height="17.2"/>
<rect x="1129.1" y="467.76" width="17.2" height="17.2"/>
<rect x="1166.14" y="467.76" width="17.2" height="17.2"/>
<rect x="1203.18" y="467.76" width="17.2" height="17.2"/>
<rect x="1240.22" y="467.76" width="17.2" height="17.2"/>
<rect x="1277.26" y="467.76" width="17.2" height="17.2"/>
<rect x="1314.3" y="467.76" width="17.2" height="17.2"/>
<rect x="1351.34" y="467.76" width="17.2" height="17.2"/>
<rect x="1388.38" y="467.76" width="17.2" height="17.2"/>
<rect x="1406.9" y="467.76" width="17.2" height="17.2"/>
<rect x="1425.42" y="467.76" width="17.2" height="17.2"/>
</g>
<g fill="#d49a06" stroke="#a67808" stroke-width="1">
<rect x="906.86" y="467.76" width="17.2" height="17.2"/>
<rect x="925.38" y="467.76" width="17.2" height="17.2"/>
<rect x="943.9" y="467.76" width="17.2" height="17.2"/>
<rect x="980.94" y="467.76" width="17.2" height="17.2"/>
<rect x="1017.98" y="467.76" width="17.2" height="17.2"/>
<rect x="1055.02" y="467.76" width="17.2" height="17.2"/>
<rect x="1092.06" y="467.76" width="17.2" height="17.2"/>
<rect x="1129.1" y="467.76" width="17.2" height="17.2"/>
<rect x="1166.14" y="467.76" width="17.2" height="17.2"/>
<rect x="1203.18" y="467.76" width="17.2" height="17.2"/>
<rect x="1240.22" y="467.76" width="17.2" height="17.2"/>
<rect x="1277.26" y="467.76" width="17.2" height="17.2"/>
<rect x="1314.3" y="467.76" width="17.2" height="17.2"/>
<rect x="1351.34" y="467.76" width="17.2" height="17.2"/>
<rect x="1388.38" y="467.76" width="17.2" height="17.2"/>
<rect x="1406.9" y="467.76" width="17.2" height="17.2"/>
<rect x="1425.42" y="467.76" width="17.2" height="17.2"/>
</g>
<g fill="#02cdd0" stroke="#06a0a4" stroke-width="1">
<rect x="906.86" y="467.76" width="17.2" height="17.2"/>
<rect x="925.38" y="467.76" width="17.2" height="17.2"/>
<rect x="943.9" y="469.02" width="17.2" height="17.2"/>
<rect x="980.94" y="474.83" width="17.2" height="17.2"/>
<rect x="1017.98" y="477.65" width="17.2" height="17.2"/>
<rect x="1055.02" y="477.65" width="17.2" height="17.2"/>
<rect x="1092.06" y="477.65" width="17.2" height="17.2"/>
<rect x="1129.1" y="477.65" width="17.2" height="17.2"/>
<rect x="1166.14" y="477.65" width="17.2" height="17.2"/>
<rect x="1203.18" y="477.65" width="17.2" height="17.2"/>
<rect x="1240.22" y="477.65" width="17.2" height="17.2"/>
<rect x="1277.26" y="477.65" width="17.2" height="17.2"/>
<rect x="1314.3" y="477.65" width="17.2" height="17.2"/>
<rect x="1351.34" y="476.08" width="17.2" height="17.2"/>
<rect x="1388.38" y="469.41" width="17.2" height="17.2"/>
<rect x="1406.9" y="467.76" width="17.2" height="17.2"/>
<rect x="1425.42" y="467.76" width="17.2" height="17.2"/>
</g>
<g fill="#7e4c4b" stroke="#5e3838" stroke-width="1">
<rect x="906.86" y="471.38" width="17.2" height="17.2"/>
<rect x="925.38" y="478.05" width="17.2" height="17.2"/>
<rect x="943.9" y="488.64" width="17.2" height="17.2"/>
<rect x="980.94" y="510.62" width="17.2" height="17.2"/>
<rect x="1017.98" y="518.48" width="17.2" height="17.2"/>
<rect x="1055.02" y="520.04" width="17.2" height="17.2"/>
<rect x="1092.06" y="520.04" width="17.2" height="17.2"/>
<rect x="1129.1" y="520.04" width="17.2" height="17.2"/>
<rect x="1166.14" y="520.04" width="17.2" height="17.2"/>
<rect x="1203.18" y="520.04" width="17.2" height="17.2"/>
<rect x="1240.22" y="520.04" width="17.2" height="17.2"/>
<rect x="1277.26" y="520.04" width="17.2" height="17.2"/>
<rect x="1314.3" y="519.65" width="17.2" height="17.2"/>
<rect x="1351.34" y="514.79" width="17.2" height="17.2"/>
<rect x="1388.38" y="497.28" width="17.2" height="17.2"/>
<rect x="1406.9" y="486.29" width="17.2" height="17.2"/>
<rect x="1425.42" y="476.08" width="17.2" height="17.2"/>
</g>
<g fill="#8c8e04" stroke="#6a6c08" stroke-width="1">
<rect x="906.86" y="502.77" width="17.2" height="17.2"/>
<rect x="925.38" y="531.43" width="17.2" height="17.2"/>
<rect x="943.9" y="550.66" width="17.2" height="17.2"/>
<rect x="980.94" y="578.13" width="17.2" height="17.2"/>
<rect x="1017.98" y="585.2" width="17.2" height="17.2"/>
<rect x="1055.02" y="585.2" width="17.2" height="17.2"/>
<rect x="1092.06" y="585.2" width="17.2" height="17.2"/>
<rect x="1129.1" y="584.81" width="17.2" height="17.2"/>
<rect x="1166.14" y="584.41" width="17.2" height="17.2"/>
<rect x="1203.18" y="584.41" width="17.2" height="17.2"/>
<rect x="1240.22" y="584.41" width="17.2" height="17.2"/>
<rect x="1277.26" y="584.41" width="17.2" height="17.2"/>
<rect x="1314.3" y="583.63" width="17.2" height="17.2"/>
<rect x="1351.34" y="578.13" width="17.2" height="17.2"/>
<rect x="1388.38" y="556.15" width="17.2" height="17.2"/>
<rect x="1406.9" y="538.49" width="17.2" height="17.2"/>
<rect x="1425.42" y="513.76" width="17.2" height="17.2"/>
</g>
<g fill="#fd6206" stroke="#c44a08" stroke-width="1">
<rect x="906.86" y="604.04" width="17.2" height="17.2"/>
<rect x="925.38" y="625.24" width="17.2" height="17.2"/>
<rect x="943.9" y="642.5" width="17.2" height="17.2"/>
<rect x="980.94" y="656.63" width="17.2" height="17.2"/>
<rect x="1017.98" y="658.21" width="17.2" height="17.2"/>
<rect x="1055.02" y="655.06" width="17.2" height="17.2"/>
<rect x="1092.06" y="651.14" width="17.2" height="17.2"/>
<rect x="1129.1" y="649.96" width="17.2" height="17.2"/>
<rect x="1166.14" y="648.39" width="17.2" height="17.2"/>
<rect x="1203.18" y="647.21" width="17.2" height="17.2"/>
<rect x="1240.22" y="646.04" width="17.2" height="17.2"/>
<rect x="1277.26" y="644.86" width="17.2" height="17.2"/>
<rect x="1314.3" y="644.07" width="17.2" height="17.2"/>
<rect x="1351.34" y="640.15" width="17.2" height="17.2"/>
<rect x="1388.38" y="621.31" width="17.2" height="17.2"/>
<rect x="1406.9" y="604.04" width="17.2" height="17.2"/>
<rect x="1425.42" y="577.35" width="17.2" height="17.2"/>
</g>
<g fill="#6498d4" stroke="#4c76a8" stroke-width="1">
<rect x="906.86" y="638.97" width="17.2" height="17.2"/>
<rect x="925.38" y="702.95" width="17.2" height="17.2"/>
<rect x="943.9" y="708.45" width="17.2" height="17.2"/>
<rect x="980.94" y="710.8" width="17.2" height="17.2"/>
<rect x="1017.98" y="710.01" width="17.2" height="17.2"/>
<rect x="1055.02" y="704.83" width="17.2" height="17.2"/>
<rect x="1092.06" y="699.42" width="17.2" height="17.2"/>
<rect x="1129.1" y="695.41" width="17.2" height="17.2"/>
<rect x="1166.14" y="692.75" width="17.2" height="17.2"/>
<rect x="1203.18" y="690.39" width="17.2" height="17.2"/>
<rect x="1240.22" y="688.03" width="17.2" height="17.2"/>
<rect x="1277.26" y="685.68" width="17.2" height="17.2"/>
<rect x="1314.3" y="682.93" width="17.2" height="17.2"/>
<rect x="1351.34" y="680.18" width="17.2" height="17.2"/>
<rect x="1388.38" y="669.19" width="17.2" height="17.2"/>
<rect x="1406.9" y="658.21" width="17.2" height="17.2"/>
<rect x="1425.42" y="638.97" width="17.2" height="17.2"/>
</g>
<rect x="897.5" y="452.5" width="556.1" height="305.5" fill="none" stroke="#000" stroke-width="2.8"/>
<path d="M915.46 758V765.4M952.5 758V770.9M989.54 758V765.4M1026.58 758V770.9M1063.62 758V765.4M1100.66 758V770.9M1137.7 758V765.4M1174.74 758V770.9M1211.78 758V765.4M1248.82 758V770.9M1285.86 758V765.4M1322.9 758V770.9M1359.94 758V765.4M1396.98 758V770.9M1434.02 758V765.4" stroke="#000" stroke-width="2.6" fill="none"/>
<path d="M897.5 754.72H890.6M897.5 727.25H885.1M897.5 699.77H890.6M897.5 672.3H885.1M897.5 644.83H890.6M897.5 617.35H885.1M897.5 589.88H890.6M897.5 562.4H885.1M897.5 534.92H890.6M897.5 507.45H885.1M897.5 479.98H890.6M897.5 452.5H885.1" stroke="#000" stroke-width="2.6" fill="none"/>
<g font-family="'Liberation Sans', sans-serif" font-weight="bold" font-size="31.5" fill="#000">
<text x="952.5" y="803.6" text-anchor="middle">0.0</text>
<text x="1026.58" y="803.6" text-anchor="middle">0.2</text>
<text x="1100.66" y="803.6" text-anchor="middle">0.4</text>
<text x="1174.74" y="803.6" text-anchor="middle">0.6</text>
<text x="1248.82" y="803.6" text-anchor="middle">0.8</text>
<text x="1322.9" y="803.6" text-anchor="middle">1.0</text>
<text x="1396.98" y="803.6" text-anchor="middle">1.2</text>
<text x="875.5" y="737.05" text-anchor="end">7</text>
<text x="875.5" y="682.1" text-anchor="end">14</text>
<text x="875.5" y="627.15" text-anchor="end">21</text>
<text x="875.5" y="572.2" text-anchor="end">28</text>
<text x="875.5" y="517.25" text-anchor="end">35</text>
<text x="875.5" y="462.3" text-anchor="end">42</text>
</g>
<text x="1175.55" y="843.6" font-family="'Liberation Sans', sans-serif" font-weight="bold" font-size="32" text-anchor="middle">Energy level (eV)</text>
<text transform="translate(819,605.25) rotate(-90)" font-family="'Liberation Sans', sans-serif" font-weight="bold" font-size="32" text-anchor="middle">J<tspan font-size="21" dy="7.5">SC</tspan><tspan dy="-7.5"> (mA/cm</tspan><tspan font-size="21" dy="-13.5">2</tspan><tspan dy="13.5">)</tspan></text>
<text x="782.3" y="456.3" font-family="'Liberation Sans', sans-serif" font-weight="bold" font-size="36">(g)</text>
<text x="1434.5" y="728.5" font-family="'Liberation Sans', sans-serif" font-weight="bold" font-size="32" text-anchor="end">CaS</text>
<g fill="none" stroke="#767676" stroke-width="1.35" stroke-dasharray="1.5 2.0">
<polyline points="915.46,916.55 933.98,916.55 952.5,916.55 989.54,916.55 1026.58,916.55 1063.62,916.55 1100.66,916.55 1137.7,916.55 1174.74,916.55 1211.78,916.55 1248.82,916.55 1285.86,916.55 1322.9,916.55 1359.94,916.55 1396.98,916.55 1415.5,916.55 1434.02,916.55"/>
<polyline points="915.46,916.55 933.98,916.55 952.5,916.55 989.54,916.55 1026.58,916.55 1063.62,916.55 1100.66,916.55 1137.7,916.55 1174.74,916.55 1211.78,916.55 1248.82,916.55 1285.86,916.55 1322.9,916.55 1359.94,916.55 1396.98,916.55 1415.5,916.55 1434.02,916.55"/>
<polyline points="915.46,916.55 933.98,916.55 952.5,916.55 989.54,916.55 1026.58,916.55 1063.62,916.55 1100.66,916.55 1137.7,916.55 1174.74,916.55 1211.78,916.55 1248.82,916.55 1285.86,916.55 1322.9,916.55 1359.94,916.55 1396.98,916.55 1415.5,916.55 1434.02,916.55"/>
<polyline points="915.46,916.55 933.98,916.55 952.5,916.55 989.54,916.55 1026.58,916.55 1063.62,916.55 1100.66,916.55 1137.7,916.55 1174.74,916.55 1211.78,916.55 1248.82,916.55 1285.86,916.55 1322.9,916.55 1359.94,916.55 1396.98,916.55 1415.5,916.55 1434.02,916.55"/>
<polyline points="915.46,916.55 933.98,916.55 952.5,918.27 989.54,923.98 1026.58,926.09 1063.62,926.09 1100.66,926.09 1137.7,926.09 1174.74,926.09 1211.78,926.09 1248.82,926.09 1285.86,926.09 1322.9,926.09 1359.94,923.98 1396.98,918.04 1415.5,916.55 1434.02,916.55"/>
<polyline points="915.46,919.99 933.98,926.64 952.5,937.43 989.54,959.4 1026.58,967.54 1063.62,968.01 1100.66,968.01 1137.7,968.01 1174.74,968.01 1211.78,968.01 1248.82,968.01 1285.86,968.01 1322.9,968.01 1359.94,963 1396.98,945.64 1415.5,934.69 1434.02,923.98"/>
<polyline points="915.46,951.11 933.98,980.6 952.5,999.99 989.54,1027.98 1026.58,1035.57 1063.62,1035.57 1100.66,1034.79 1137.7,1034.01 1174.74,1034.01 1211.78,1034.01 1248.82,1033.62 1285.86,1033.62 1322.9,1032.6 1359.94,1027.36 1396.98,1005.62 1415.5,987.4 1434.02,962.61"/>
<polyline points="915.46,1055.43 933.98,1078.58 952.5,1095.39 989.54,1111.03 1026.58,1112.44 1063.62,1109.08 1100.66,1105.4 1137.7,1103.37 1174.74,1101.57 1211.78,1100.48 1248.82,1098.91 1285.86,1097.35 1322.9,1096.02 1359.94,1091.09 1396.98,1071.54 1415.5,1054.03 1434.02,1026.58"/>
<polyline points="915.46,1088.98 933.98,1161.39 952.5,1167.02 989.54,1169.6 1026.58,1168.59 1063.62,1163.04 1100.66,1157.41 1137.7,1152.64 1174.74,1149.98 1211.78,1147.4 1248.82,1144.58 1285.86,1141.92 1322.9,1139.42 1359.94,1134.57 1396.98,1121.98 1415.5,1110.02 1434.02,1090"/>
</g>
<g fill="#1a6ee0" stroke="#1655a8" stroke-width="1">
<rect x="906.86" y="907.95" width="17.2" height="17.2"/>
<rect x="925.38" y="907.95" width="17.2" height="17.2"/>
<rect x="943.9" y="907.95" width="17.2" height="17.2"/>
<rect x="980.94" y="907.95" width="17.2" height="17.2"/>
<rect x="1017.98" y="907.95" width="17.2" height="17.2"/>
<rect x="1055.02" y="907.95" width="17.2" height="17.2"/>
<rect x="1092.06" y="907.95" width="17.2" height="17.2"/>
<rect x="1129.1" y="907.95" width="17.2" height="17.2"/>
<rect x="1166.14" y="907.95" width="17.2" height="17.2"/>
<rect x="1203.18" y="907.95" width="17.2" height="17.2"/>
<rect x="1240.22" y="907.95" width="17.2" height="17.2"/>
<rect x="1277.26" y="907.95" width="17.2" height="17.2"/>
<rect x="1314.3" y="907.95" width="17.2" height="17.2"/>
<rect x="1351.34" y="907.95" width="17.2" height="17.2"/>
<rect x="1388.38" y="907.95" width="17.2" height="17.2"/>
<rect x="1406.9" y="907.95" width="17.2" height="17.2"/>
<rect x="1425.42" y="907.95" width="17.2" height="17.2"/>
</g>
<g fill="#2eaa62" stroke="#24844c" stroke-width="1">
<rect x="906.86" y="907.95" width="17.2" height="17.2"/>
<rect x="925.38" y="907.95" width="17.2" height="17.2"/>
<rect x="943.9" y="907.95" width="17.2" height="17.2"/>
<rect x="980.94" y="907.95" width="17.2" height="17.2"/>
<rect x="1017.98" y="907.95" width="17.2" height="17.2"/>
<rect x="1055.02" y="907.95" width="17.2" height="17.2"/>
<rect x="1092.06" y="907.95" width="17.2" height="17.2"/>
<rect x="1129.1" y="907.95" width="17.2" height="17.2"/>
<rect x="1166.14" y="907.95" width="17.2" height="17.2"/>
<rect x="1203.18" y="907.95" width="17.2" height="17.2"/>
<rect x="1240.22" y="907.95" width="17.2" height="17.2"/>
<rect x="1277.26" y="907.95" width="17.2" height="17.2"/>
<rect x="1314.3" y="907.95" width="17.2" height="17.2"/>
<rect x="1351.34" y="907.95" width="17.2" height="17.2"/>
<rect x="1388.38" y="907.95" width="17.2" height="17.2"/>
<rect x="1406.9" y="907.95" width="17.2" height="17.2"/>
<rect x="1425.42" y="907.95" width="17.2" height="17.2"/>
</g>
<g fill="#b073e8" stroke="#8a58b5" stroke-width="1">
<rect x="906.86" y="907.95" width="17.2" height="17.2"/>
<rect x="925.38" y="907.95" width="17.2" height="17.2"/>
<rect x="943.9" y="907.95" width="17.2" height="17.2"/>
<rect x="980.94" y="907.95" width="17.2" height="17.2"/>
<rect x="1017.98" y="907.95" width="17.2" height="17.2"/>
<rect x="1055.02" y="907.95" width="17.2" height="17.2"/>
<rect x="1092.06" y="907.95" width="17.2" height="17.2"/>
<rect x="1129.1" y="907.95" width="17.2" height="17.2"/>
<rect x="1166.14" y="907.95" width="17.2" height="17.2"/>
<rect x="1203.18" y="907.95" width="17.2" height="17.2"/>
<rect x="1240.22" y="907.95" width="17.2" height="17.2"/>
<rect x="1277.26" y="907.95" width="17.2" height="17.2"/>
<rect x="1314.3" y="907.95" width="17.2" height="17.2"/>
<rect x="1351.34" y="907.95" width="17.2" height="17.2"/>
<rect x="1388.38" y="907.95" width="17.2" height="17.2"/>
<rect x="1406.9" y="907.95" width="17.2" height="17.2"/>
<rect x="1425.42" y="907.95" width="17.2" height="17.2"/>
</g>
<g fill="#d49a06" stroke="#a67808" stroke-width="1">
<rect x="906.86" y="907.95" width="17.2" height="17.2"/>
<rect x="925.38" y="907.95" width="17.2" height="17.2"/>
<rect x="943.9" y="907.95" width="17.2" height="17.2"/>
<rect x="980.94" y="907.95" width="17.2" height="17.2"/>
<rect x="1017.98" y="907.95" width="17.2" height="17.2"/>
<rect x="1055.02" y="907.95" width="17.2" height="17.2"/>
<rect x="1092.06" y="907.95" width="17.2" height="17.2"/>
<rect x="1129.1" y="907.95" width="17.2" height="17.2"/>
<rect x="1166.14" y="907.95" width="17.2" height="17.2"/>
<rect x="1203.18" y="907.95" width="17.2" height="17.2"/>
<rect x="1240.22" y="907.95" width="17.2" height="17.2"/>
<rect x="1277.26" y="907.95" width="17.2" height="17.2"/>
<rect x="1314.3" y="907.95" width="17.2" height="17.2"/>
<rect x="1351.34" y="907.95" width="17.2" height="17.2"/>
<rect x="1388.38" y="907.95" width="17.2" height="17.2"/>
<rect x="1406.9" y="907.95" width="17.2" height="17.2"/>
<rect x="1425.42" y="907.95" width="17.2" height="17.2"/>
</g>
<g fill="#02cdd0" stroke="#06a0a4" stroke-width="1">
<rect x="906.86" y="907.95" width="17.2" height="17.2"/>
<rect x="925.38" y="907.95" width="17.2" height="17.2"/>
<rect x="943.9" y="909.67" width="17.2" height="17.2"/>
<rect x="980.94" y="915.38" width="17.2" height="17.2"/>
<rect x="1017.98" y="917.49" width="17.2" height="17.2"/>
<rect x="1055.02" y="917.49" width="17.2" height="17.2"/>
<rect x="1092.06" y="917.49" width="17.2" height="17.2"/>
<rect x="1129.1" y="917.49" width="17.2" height="17.2"/>
<rect x="1166.14" y="917.49" width="17.2" height="17.2"/>
<rect x="1203.18" y="917.49" width="17.2" height="17.2"/>
<rect x="1240.22" y="917.49" width="17.2" height="17.2"/>
<rect x="1277.26" y="917.49" width="17.2" height="17.2"/>
<rect x="1314.3" y="917.49" width="17.2" height="17.2"/>
<rect x="1351.34" y="915.38" width="17.2" height="17.2"/>
<rect x="1388.38" y="909.44" width="17.2" height="17.2"/>
<rect x="1406.9" y="907.95" width="17.2" height="17.2"/>
<rect x="1425.42" y="907.95" width="17.2" height="17.2"/>
</g>
<g fill="#7e4c4b" stroke="#5e3838" stroke-width="1">
<rect x="906.86" y="911.39" width="17.2" height="17.2"/>
<rect x="925.38" y="918.04" width="17.2" height="17.2"/>
<rect x="943.9" y="928.83" width="17.2" height="17.2"/>
<rect x="980.94" y="950.8" width="17.2" height="17.2"/>
<rect x="1017.98" y="958.94" width="17.2" height="17.2"/>
<rect x="1055.02" y="959.41" width="17.2" height="17.2"/>
<rect x="1092.06" y="959.41" width="17.2" height="17.2"/>
<rect x="1129.1" y="959.41" width="17.2" height="17.2"/>
<rect x="1166.14" y="959.41" width="17.2" height="17.2"/>
<rect x="1203.18" y="959.41" width="17.2" height="17.2"/>
<rect x="1240.22" y="959.41" width="17.2" height="17.2"/>
<rect x="1277.26" y="959.41" width="17.2" height="17.2"/>
<rect x="1314.3" y="959.41" width="17.2" height="17.2"/>
<rect x="1351.34" y="954.4" width="17.2" height="17.2"/>
<rect x="1388.38" y="937.04" width="17.2" height="17.2"/>
<rect x="1406.9" y="926.09" width="17.2" height="17.2"/>
<rect x="1425.42" y="915.38" width="17.2" height="17.2"/>
</g>
<g fill="#8c8e04" stroke="#6a6c08" stroke-width="1">
<rect x="906.86" y="942.51" width="17.2" height="17.2"/>
<rect x="925.38" y="972" width="17.2" height="17.2"/>
<rect x="943.9" y="991.39" width="17.2" height="17.2"/>
<rect x="980.94" y="1019.38" width="17.2" height="17.2"/>
<rect x="1017.98" y="1026.97" width="17.2" height="17.2"/>
<rect x="1055.02" y="1026.97" width="17.2" height="17.2"/>
<rect x="1092.06" y="1026.19" width="17.2" height="17.2"/>
<rect x="1129.1" y="1025.41" width="17.2" height="17.2"/>
<rect x="1166.14" y="1025.41" width="17.2" height="17.2"/>
<rect x="1203.18" y="1025.41" width="17.2" height="17.2"/>
<rect x="1240.22" y="1025.02" width="17.2" height="17.2"/>
<rect x="1277.26" y="1025.02" width="17.2" height="17.2"/>
<rect x="1314.3" y="1024" width="17.2" height="17.2"/>
<rect x="1351.34" y="1018.76" width="17.2" height="17.2"/>
<rect x="1388.38" y="997.02" width="17.2" height="17.2"/>
<rect x="1406.9" y="978.8" width="17.2" height="17.2"/>
<rect x="1425.42" y="954.01" width="17.2" height="17.2"/>
</g>
<g fill="#fd6206" stroke="#c44a08" stroke-width="1">
<rect x="906.86" y="1046.83" width="17.2" height="17.2"/>
<rect x="925.38" y="1069.98" width="17.2" height="17.2"/>
<rect x="943.9" y="1086.79" width="17.2" height="17.2"/>
<rect x="980.94" y="1102.43" width="17.2" height="17.2"/>
<rect x="1017.98" y="1103.84" width="17.2" height="17.2"/>
<rect x="1055.02" y="1100.48" width="17.2" height="17.2"/>
<rect x="1092.06" y="1096.8" width="17.2" height="17.2"/>
<rect x="1129.1" y="1094.77" width="17.2" height="17.2"/>
<rect x="1166.14" y="1092.97" width="17.2" height="17.2"/>
<rect x="1203.18" y="1091.88" width="17.2" height="17.2"/>
<rect x="1240.22" y="1090.31" width="17.2" height="17.2"/>
<rect x="1277.26" y="1088.75" width="17.2" height="17.2"/>
<rect x="1314.3" y="1087.42" width="17.2" height="17.2"/>
<rect x="1351.34" y="1082.49" width="17.2" height="17.2"/>
<rect x="1388.38" y="1062.94" width="17.2" height="17.2"/>
<rect x="1406.9" y="1045.43" width="17.2" height="17.2"/>
<rect x="1425.42" y="1017.98" width="17.2" height="17.2"/>
</g>
<g fill="#6498d4" stroke="#4c76a8" stroke-width="1">
<rect x="906.86" y="1080.38" width="17.2" height="17.2"/>
<rect x="925.38" y="1152.79" width="17.2" height="17.2"/>
<rect x="943.9" y="1158.42" width="17.2" height="17.2"/>
<rect x="980.94" y="1161" width="17.2" height="17.2"/>
<rect x="1017.98" y="1159.99" width="17.2" height="17.2"/>
<rect x="1055.02" y="1154.44" width="17.2" height="17.2"/>
<rect x="1092.06" y="1148.81" width="17.2" height="17.2"/>
<rect x="1129.1" y="1144.04" width="17.2" height="17.2"/>
<rect x="1166.14" y="1141.38" width="17.2" height="17.2"/>
<rect x="1203.18" y="1138.8" width="17.2" height="17.2"/>
<rect x="1240.22" y="1135.98" width="17.2" height="17.2"/>
<rect x="1277.26" y="1133.32" width="17.2" height="17.2"/>
<rect x="1314.3" y="1130.82" width="17.2" height="17.2"/>
<rect x="1351.34" y="1125.97" width="17.2" height="17.2"/>
<rect x="1388.38" y="1113.38" width="17.2" height="17.2"/>
<rect x="1406.9" y="1101.42" width="17.2" height="17.2"/>
<rect x="1425.42" y="1081.4" width="17.2" height="17.2"/>
</g>
<rect x="897.5" y="890.9" width="556.1" height="304.7" fill="none" stroke="#000" stroke-width="2.8"/>
<path d="M915.46 1195.6V1203M952.5 1195.6V1208.5M989.54 1195.6V1203M1026.58 1195.6V1208.5M1063.62 1195.6V1203M1100.66 1195.6V1208.5M1137.7 1195.6V1203M1174.74 1195.6V1208.5M1211.78 1195.6V1203M1248.82 1195.6V1208.5M1285.86 1195.6V1203M1322.9 1195.6V1208.5M1359.94 1195.6V1203M1396.98 1195.6V1208.5M1434.02 1195.6V1203" stroke="#000" stroke-width="2.6" fill="none"/>
<path d="M897.5 1191.97H890.6M897.5 1164.6H885.1M897.5 1137.23H890.6M897.5 1109.86H885.1M897.5 1082.49H890.6M897.5 1055.12H885.1M897.5 1027.75H890.6M897.5 1000.38H885.1M897.5 973.01H890.6M897.5 945.64H885.1M897.5 918.27H890.6M897.5 890.9H885.1" stroke="#000" stroke-width="2.6" fill="none"/>
<g font-family="'Liberation Sans', sans-serif" font-weight="bold" font-size="31.5" fill="#000">
<text x="952.5" y="1241" text-anchor="middle">0.0</text>
<text x="1026.58" y="1241" text-anchor="middle">0.2</text>
<text x="1100.66" y="1241" text-anchor="middle">0.4</text>
<text x="1174.74" y="1241" text-anchor="middle">0.6</text>
<text x="1248.82" y="1241" text-anchor="middle">0.8</text>
<text x="1322.9" y="1241" text-anchor="middle">1.0</text>
<text x="1396.98" y="1241" text-anchor="middle">1.2</text>
<text x="875.5" y="1174.4" text-anchor="end">7</text>
<text x="875.5" y="1119.66" text-anchor="end">14</text>
<text x="875.5" y="1064.92" text-anchor="end">21</text>
<text x="875.5" y="1010.18" text-anchor="end">28</text>
<text x="875.5" y="955.44" text-anchor="end">35</text>
<text x="875.5" y="900.7" text-anchor="end">42</text>
</g>
<text x="1175.55" y="1285" font-family="'Liberation Sans', sans-serif" font-weight="bold" font-size="32" text-anchor="middle">Energy level (eV)</text>
<text transform="translate(819,1043.25) rotate(-90)" font-family="'Liberation Sans', sans-serif" font-weight="bold" font-size="32" text-anchor="middle">J<tspan font-size="21" dy="7.5">SC</tspan><tspan dy="-7.5"> (mA/cm</tspan><tspan font-size="21" dy="-13.5">2</tspan><tspan dy="13.5">)</tspan></text>
<text x="788.7" y="899" font-family="'Liberation Sans', sans-serif" font-weight="bold" font-size="36">(h)</text>
<text x="1428.5" y="1176.5" font-family="'Liberation Sans', sans-serif" font-weight="bold" font-size="32" text-anchor="end">SrS</text>
<g fill="none" stroke="#767676" stroke-width="1.35" stroke-dasharray="1.5 2.0">
<polyline points="915.46,1334.38 933.98,1334.38 952.5,1334.38 989.54,1334.38 1026.58,1334.38 1063.62,1334.38 1100.66,1334.38 1137.7,1334.38 1174.74,1334.38 1211.78,1334.38 1248.82,1334.38 1285.86,1334.38 1322.9,1334.38 1359.94,1334.38 1396.98,1334.38 1415.5,1334.38 1434.02,1334.38"/>
<polyline points="915.46,1334.38 933.98,1334.38 952.5,1334.38 989.54,1334.38 1026.58,1334.38 1063.62,1334.38 1100.66,1334.38 1137.7,1334.38 1174.74,1334.38 1211.78,1334.38 1248.82,1334.38 1285.86,1334.38 1322.9,1334.38 1359.94,1334.38 1396.98,1334.38 1415.5,1334.38 1434.02,1334.38"/>
<polyline points="915.46,1334.38 933.98,1334.38 952.5,1334.38 989.54,1334.38 1026.58,1334.38 1063.62,1334.38 1100.66,1334.38 1137.7,1334.38 1174.74,1334.38 1211.78,1334.38 1248.82,1334.38 1285.86,1334.38 1322.9,1334.38 1359.94,1334.38 1396.98,1334.38 1415.5,1334.38 1434.02,1334.38"/>
<polyline points="915.46,1334.38 933.98,1334.38 952.5,1334.38 989.54,1334.38 1026.58,1334.38 1063.62,1334.38 1100.66,1334.38 1137.7,1334.38 1174.74,1334.38 1211.78,1334.38 1248.82,1334.38 1285.86,1334.38 1322.9,1334.38 1359.94,1334.38 1396.98,1334.38 1415.5,1334.38 1434.02,1334.38"/>
<polyline points="915.46,1334.38 933.98,1334.38 952.5,1336.03 989.54,1343.01 1026.58,1346.99 1063.62,1347.97 1100.66,1347.97 1137.7,1347.97 1174.74,1347.97 1211.78,1347.97 1248.82,1347.97 1285.86,1347.97 1322.9,1347.74 1359.94,1343.61 1396.98,1337 1415.5,1334.38 1434.02,1337.23"/>
<polyline points="915.46,1337.98 933.98,1345.57 952.5,1356.38 989.54,1379.59 1026.58,1388.37 1063.62,1390.4 1100.66,1390.4 1137.7,1390.4 1174.74,1390.4 1211.78,1390.4 1248.82,1390.4 1285.86,1390.4 1322.9,1389.05 1359.94,1384.02 1396.98,1365.62 1415.5,1353.6 1434.02,1343.01"/>
<polyline points="915.46,1369.97 933.98,1400.01 952.5,1419.01 989.54,1446.58 1026.58,1453.63 1063.62,1453.63 1100.66,1453.63 1137.7,1452.88 1174.74,1452.43 1211.78,1452.43 1248.82,1452.13 1285.86,1451.01 1322.9,1451.01 1359.94,1445.97 1396.98,1424.42 1415.5,1406.02 1434.02,1381.99"/>
<polyline points="915.46,1474.59 933.98,1496.97 952.5,1514.02 989.54,1529.41 1026.58,1530.99 1063.62,1527.01 1100.66,1523.63 1137.7,1521 1174.74,1518.97 1211.78,1518 1248.82,1517.02 1285.86,1515.59 1322.9,1513.56 1359.94,1508.98 1396.98,1489.61 1415.5,1470.98 1434.02,1445"/>
<polyline points="915.46,1502.45 933.98,1589.57 952.5,1597.98 989.54,1605.64 1026.58,1607.59 1063.62,1602.41 1100.66,1597 1137.7,1595.57 1174.74,1596.02 1211.78,1594.07 1248.82,1579.05 1285.86,1561.63 1322.9,1557.57 1359.94,1552.39 1396.98,1540 1415.5,1527.98 1434.02,1508.01"/>
</g>
<g fill="#1a6ee0" stroke="#1655a8" stroke-width="1">
<rect x="906.86" y="1325.78" width="17.2" height="17.2"/>
<rect x="925.38" y="1325.78" width="17.2" height="17.2"/>
<rect x="943.9" y="1325.78" width="17.2" height="17.2"/>
<rect x="980.94" y="1325.78" width="17.2" height="17.2"/>
<rect x="1017.98" y="1325.78" width="17.2" height="17.2"/>
<rect x="1055.02" y="1325.78" width="17.2" height="17.2"/>
<rect x="1092.06" y="1325.78" width="17.2" height="17.2"/>
<rect x="1129.1" y="1325.78" width="17.2" height="17.2"/>
<rect x="1166.14" y="1325.78" width="17.2" height="17.2"/>
<rect x="1203.18" y="1325.78" width="17.2" height="17.2"/>
<rect x="1240.22" y="1325.78" width="17.2" height="17.2"/>
<rect x="1277.26" y="1325.78" width="17.2" height="17.2"/>
<rect x="1314.3" y="1325.78" width="17.2" height="17.2"/>
<rect x="1351.34" y="1325.78" width="17.2" height="17.2"/>
<rect x="1388.38" y="1325.78" width="17.2" height="17.2"/>
<rect x="1406.9" y="1325.78" width="17.2" height="17.2"/>
<rect x="1425.42" y="1325.78" width="17.2" height="17.2"/>
</g>
<g fill="#2eaa62" stroke="#24844c" stroke-width="1">
<rect x="906.86" y="1325.78" width="17.2" height="17.2"/>
<rect x="925.38" y="1325.78" width="17.2" height="17.2"/>
<rect x="943.9" y="1325.78" width="17.2" height="17.2"/>
<rect x="980.94" y="1325.78" width="17.2" height="17.2"/>
<rect x="1017.98" y="1325.78" width="17.2" height="17.2"/>
<rect x="1055.02" y="1325.78" width="17.2" height="17.2"/>
<rect x="1092.06" y="1325.78" width="17.2" height="17.2"/>
<rect x="1129.1" y="1325.78" width="17.2" height="17.2"/>
<rect x="1166.14" y="1325.78" width="17.2" height="17.2"/>
<rect x="1203.18" y="1325.78" width="17.2" height="17.2"/>
<rect x="1240.22" y="1325.78" width="17.2" height="17.2"/>
<rect x="1277.26" y="1325.78" width="17.2" height="17.2"/>
<rect x="1314.3" y="1325.78" width="17.2" height="17.2"/>
<rect x="1351.34" y="1325.78" width="17.2" height="17.2"/>
<rect x="1388.38" y="1325.78" width="17.2" height="17.2"/>
<rect x="1406.9" y="1325.78" width="17.2" height="17.2"/>
<rect x="1425.42" y="1325.78" width="17.2" height="17.2"/>
</g>
<g fill="#b073e8" stroke="#8a58b5" stroke-width="1">
<rect x="906.86" y="1325.78" width="17.2" height="17.2"/>
<rect x="925.38" y="1325.78" width="17.2" height="17.2"/>
<rect x="943.9" y="1325.78" width="17.2" height="17.2"/>
<rect x="980.94" y="1325.78" width="17.2" height="17.2"/>
<rect x="1017.98" y="1325.78" width="17.2" height="17.2"/>
<rect x="1055.02" y="1325.78" width="17.2" height="17.2"/>
<rect x="1092.06" y="1325.78" width="17.2" height="17.2"/>
<rect x="1129.1" y="1325.78" width="17.2" height="17.2"/>
<rect x="1166.14" y="1325.78" width="17.2" height="17.2"/>
<rect x="1203.18" y="1325.78" width="17.2" height="17.2"/>
<rect x="1240.22" y="1325.78" width="17.2" height="17.2"/>
<rect x="1277.26" y="1325.78" width="17.2" height="17.2"/>
<rect x="1314.3" y="1325.78" width="17.2" height="17.2"/>
<rect x="1351.34" y="1325.78" width="17.2" height="17.2"/>
<rect x="1388.38" y="1325.78" width="17.2" height="17.2"/>
<rect x="1406.9" y="1325.78" width="17.2" height="17.2"/>
<rect x="1425.42" y="1325.78" width="17.2" height="17.2"/>
</g>
<g fill="#d49a06" stroke="#a67808" stroke-width="1">
<rect x="906.86" y="1325.78" width="17.2" height="17.2"/>
<rect x="925.38" y="1325.78" width="17.2" height="17.2"/>
<rect x="943.9" y="1325.78" width="17.2" height="17.2"/>
<rect x="980.94" y="1325.78" width="17.2" height="17.2"/>
<rect x="1017.98" y="1325.78" width="17.2" height="17.2"/>
<rect x="1055.02" y="1325.78" width="17.2" height="17.2"/>
<rect x="1092.06" y="1325.78" width="17.2" height="17.2"/>
<rect x="1129.1" y="1325.78" width="17.2" height="17.2"/>
<rect x="1166.14" y="1325.78" width="17.2" height="17.2"/>
<rect x="1203.18" y="1325.78" width="17.2" height="17.2"/>
<rect x="1240.22" y="1325.78" width="17.2" height="17.2"/>
<rect x="1277.26" y="1325.78" width="17.2" height="17.2"/>
<rect x="1314.3" y="1325.78" width="17.2" height="17.2"/>
<rect x="1351.34" y="1325.78" width="17.2" height="17.2"/>
<rect x="1388.38" y="1325.78" width="17.2" height="17.2"/>
<rect x="1406.9" y="1325.78" width="17.2" height="17.2"/>
<rect x="1425.42" y="1325.78" width="17.2" height="17.2"/>
</g>
<g fill="#02cdd0" stroke="#06a0a4" stroke-width="1">
<rect x="906.86" y="1325.78" width="17.2" height="17.2"/>
<rect x="925.38" y="1325.78" width="17.2" height="17.2"/>
<rect x="943.9" y="1327.43" width="17.2" height="17.2"/>
<rect x="980.94" y="1334.41" width="17.2" height="17.2"/>
<rect x="1017.98" y="1338.39" width="17.2" height="17.2"/>
<rect x="1055.02" y="1339.37" width="17.2" height="17.2"/>
<rect x="1092.06" y="1339.37" width="17.2" height="17.2"/>
<rect x="1129.1" y="1339.37" width="17.2" height="17.2"/>
<rect x="1166.14" y="1339.37" width="17.2" height="17.2"/>
<rect x="1203.18" y="1339.37" width="17.2" height="17.2"/>
<rect x="1240.22" y="1339.37" width="17.2" height="17.2"/>
<rect x="1277.26" y="1339.37" width="17.2" height="17.2"/>
<rect x="1314.3" y="1339.14" width="17.2" height="17.2"/>
<rect x="1351.34" y="1335.01" width="17.2" height="17.2"/>
<rect x="1388.38" y="1328.4" width="17.2" height="17.2"/>
<rect x="1406.9" y="1325.78" width="17.2" height="17.2"/>
<rect x="1425.42" y="1328.63" width="17.2" height="17.2"/>
</g>
<g fill="#7e4c4b" stroke="#5e3838" stroke-width="1">
<rect x="906.86" y="1329.38" width="17.2" height="17.2"/>
<rect x="925.38" y="1336.97" width="17.2" height="17.2"/>
<rect x="943.9" y="1347.78" width="17.2" height="17.2"/>
<rect x="980.94" y="1370.99" width="17.2" height="17.2"/>
<rect x="1017.98" y="1379.77" width="17.2" height="17.2"/>
<rect x="1055.02" y="1381.8" width="17.2" height="17.2"/>
<rect x="1092.06" y="1381.8" width="17.2" height="17.2"/>
<rect x="1129.1" y="1381.8" width="17.2" height="17.2"/>
<rect x="1166.14" y="1381.8" width="17.2" height="17.2"/>
<rect x="1203.18" y="1381.8" width="17.2" height="17.2"/>
<rect x="1240.22" y="1381.8" width="17.2" height="17.2"/>
<rect x="1277.26" y="1381.8" width="17.2" height="17.2"/>
<rect x="1314.3" y="1380.45" width="17.2" height="17.2"/>
<rect x="1351.34" y="1375.42" width="17.2" height="17.2"/>
<rect x="1388.38" y="1357.02" width="17.2" height="17.2"/>
<rect x="1406.9" y="1345" width="17.2" height="17.2"/>
<rect x="1425.42" y="1334.41" width="17.2" height="17.2"/>
</g>
<g fill="#8c8e04" stroke="#6a6c08" stroke-width="1">
<rect x="906.86" y="1361.37" width="17.2" height="17.2"/>
<rect x="925.38" y="1391.41" width="17.2" height="17.2"/>
<rect x="943.9" y="1410.41" width="17.2" height="17.2"/>
<rect x="980.94" y="1437.98" width="17.2" height="17.2"/>
<rect x="1017.98" y="1445.04" width="17.2" height="17.2"/>
<rect x="1055.02" y="1445.04" width="17.2" height="17.2"/>
<rect x="1092.06" y="1445.04" width="17.2" height="17.2"/>
<rect x="1129.1" y="1444.28" width="17.2" height="17.2"/>
<rect x="1166.14" y="1443.83" width="17.2" height="17.2"/>
<rect x="1203.18" y="1443.83" width="17.2" height="17.2"/>
<rect x="1240.22" y="1443.53" width="17.2" height="17.2"/>
<rect x="1277.26" y="1442.41" width="17.2" height="17.2"/>
<rect x="1314.3" y="1442.41" width="17.2" height="17.2"/>
<rect x="1351.34" y="1437.37" width="17.2" height="17.2"/>
<rect x="1388.38" y="1415.82" width="17.2" height="17.2"/>
<rect x="1406.9" y="1397.42" width="17.2" height="17.2"/>
<rect x="1425.42" y="1373.39" width="17.2" height="17.2"/>
</g>
<g fill="#fd6206" stroke="#c44a08" stroke-width="1">
<rect x="906.86" y="1465.99" width="17.2" height="17.2"/>
<rect x="925.38" y="1488.37" width="17.2" height="17.2"/>
<rect x="943.9" y="1505.42" width="17.2" height="17.2"/>
<rect x="980.94" y="1520.81" width="17.2" height="17.2"/>
<rect x="1017.98" y="1522.39" width="17.2" height="17.2"/>
<rect x="1055.02" y="1518.41" width="17.2" height="17.2"/>
<rect x="1092.06" y="1515.03" width="17.2" height="17.2"/>
<rect x="1129.1" y="1512.4" width="17.2" height="17.2"/>
<rect x="1166.14" y="1510.37" width="17.2" height="17.2"/>
<rect x="1203.18" y="1509.4" width="17.2" height="17.2"/>
<rect x="1240.22" y="1508.42" width="17.2" height="17.2"/>
<rect x="1277.26" y="1506.99" width="17.2" height="17.2"/>
<rect x="1314.3" y="1504.96" width="17.2" height="17.2"/>
<rect x="1351.34" y="1500.38" width="17.2" height="17.2"/>
<rect x="1388.38" y="1481.01" width="17.2" height="17.2"/>
<rect x="1406.9" y="1462.38" width="17.2" height="17.2"/>
<rect x="1425.42" y="1436.4" width="17.2" height="17.2"/>
</g>
<g fill="#6498d4" stroke="#4c76a8" stroke-width="1">
<rect x="906.86" y="1493.85" width="17.2" height="17.2"/>
<rect x="925.38" y="1580.97" width="17.2" height="17.2"/>
<rect x="943.9" y="1589.38" width="17.2" height="17.2"/>
<rect x="980.94" y="1597.04" width="17.2" height="17.2"/>
<rect x="1017.98" y="1598.99" width="17.2" height="17.2"/>
<rect x="1055.02" y="1593.81" width="17.2" height="17.2"/>
<rect x="1092.06" y="1588.4" width="17.2" height="17.2"/>
<rect x="1129.1" y="1586.97" width="17.2" height="17.2"/>
<rect x="1166.14" y="1587.42" width="17.2" height="17.2"/>
<rect x="1203.18" y="1585.47" width="17.2" height="17.2"/>
<rect x="1240.22" y="1570.45" width="17.2" height="17.2"/>
<rect x="1277.26" y="1553.03" width="17.2" height="17.2"/>
<rect x="1314.3" y="1548.97" width="17.2" height="17.2"/>
<rect x="1351.34" y="1543.79" width="17.2" height="17.2"/>
<rect x="1388.38" y="1531.4" width="17.2" height="17.2"/>
<rect x="1406.9" y="1519.38" width="17.2" height="17.2"/>
<rect x="1425.42" y="1499.41" width="17.2" height="17.2"/>
</g>
<rect x="897.5" y="1314.7" width="556.1" height="303.3" fill="none" stroke="#000" stroke-width="2.8"/>
<path d="M915.46 1618V1625.4M952.5 1618V1630.9M989.54 1618V1625.4M1026.58 1618V1630.9M1063.62 1618V1625.4M1100.66 1618V1630.9M1137.7 1618V1625.4M1174.74 1618V1630.9M1211.78 1618V1625.4M1248.82 1618V1630.9M1285.86 1618V1625.4M1322.9 1618V1630.9M1359.94 1618V1625.4M1396.98 1618V1630.9M1434.02 1618V1625.4" stroke="#000" stroke-width="2.6" fill="none"/>
<path d="M897.5 1603.84H890.6M897.5 1577.55H885.1M897.5 1551.27H890.6M897.5 1524.98H885.1M897.5 1498.7H890.6M897.5 1472.41H885.1M897.5 1446.12H890.6M897.5 1419.84H885.1M897.5 1393.56H890.6M897.5 1367.27H885.1M897.5 1340.99H890.6M897.5 1314.7H885.1" stroke="#000" stroke-width="2.6" fill="none"/>
<g font-family="'Liberation Sans', sans-serif" font-weight="bold" font-size="31.5" fill="#000">
<text x="952.5" y="1664.4" text-anchor="middle">0.0</text>
<text x="1026.58" y="1664.4" text-anchor="middle">0.2</text>
<text x="1100.66" y="1664.4" text-anchor="middle">0.4</text>
<text x="1174.74" y="1664.4" text-anchor="middle">0.6</text>
<text x="1248.82" y="1664.4" text-anchor="middle">0.8</text>
<text x="1322.9" y="1664.4" text-anchor="middle">1.0</text>
<text x="1396.98" y="1664.4" text-anchor="middle">1.2</text>
<text x="875.5" y="1587.35" text-anchor="end">7</text>
<text x="875.5" y="1534.78" text-anchor="end">14</text>
<text x="875.5" y="1482.21" text-anchor="end">21</text>
<text x="875.5" y="1429.64" text-anchor="end">28</text>
<text x="875.5" y="1377.07" text-anchor="end">35</text>
<text x="875.5" y="1324.5" text-anchor="end">42</text>
</g>
<text x="1175.55" y="1700" font-family="'Liberation Sans', sans-serif" font-weight="bold" font-size="32" text-anchor="middle">Energy level (eV)</text>
<text transform="translate(819,1466.35) rotate(-90)" font-family="'Liberation Sans', sans-serif" font-weight="bold" font-size="32" text-anchor="middle">J<tspan font-size="21" dy="7.5">SC</tspan><tspan dy="-7.5"> (mA/cm</tspan><tspan font-size="21" dy="-13.5">2</tspan><tspan dy="13.5">)</tspan></text>
<text x="791.5" y="1329.2" font-family="'Liberation Sans', sans-serif" font-weight="bold" font-size="36">(i)</text>
<text x="1421.5" y="1601.5" font-family="'Liberation Sans', sans-serif" font-weight="bold" font-size="32" text-anchor="end">BaS</text>
<g fill="none" stroke="#767676" stroke-width="1.35" stroke-dasharray="1.5 2.0">
<polyline points="915.46,1756.04 933.98,1756.04 952.5,1756.04 989.54,1756.04 1026.58,1756.04 1063.62,1756.04 1100.66,1756.04 1137.7,1756.04 1174.74,1756.04 1211.78,1756.04 1248.82,1756.04 1285.86,1756.04 1322.9,1756.04 1359.94,1756.04 1396.98,1756.04 1415.5,1756.04 1434.02,1756.04"/>
<polyline points="915.46,1756.04 933.98,1756.04 952.5,1756.04 989.54,1756.04 1026.58,1756.04 1063.62,1756.04 1100.66,1756.04 1137.7,1756.04 1174.74,1756.04 1211.78,1756.04 1248.82,1756.04 1285.86,1756.04 1322.9,1756.04 1359.94,1756.04 1396.98,1756.04 1415.5,1756.04 1434.02,1756.04"/>
<polyline points="915.46,1756.04 933.98,1748.18 952.5,1748.18 989.54,1748.18 1026.58,1748.18 1063.62,1748.18 1100.66,1747.4 1137.7,1747.4 1174.74,1747.4 1211.78,1747.4 1248.82,1747.4 1285.86,1747.4 1322.9,1747.4 1359.94,1747.4 1396.98,1756.04 1415.5,1756.04 1434.02,1756.04"/>
<polyline points="915.46,1756.04 933.98,1747.4 952.5,1747.4 989.54,1747.4 1026.58,1747.4 1063.62,1747.4 1100.66,1755.41 1137.7,1755.41 1174.74,1755.41 1211.78,1755.41 1248.82,1755.41 1285.86,1755.41 1322.9,1755.41 1359.94,1755.41 1396.98,1756.04 1415.5,1756.04 1434.02,1756.04"/>
<polyline points="915.46,1755.41 933.98,1755.25 952.5,1757.37 989.54,1763.1 1026.58,1764.98 1063.62,1764.98 1100.66,1764.98 1137.7,1764.98 1174.74,1764.98 1211.78,1764.98 1248.82,1764.98 1285.86,1764.98 1322.9,1764.98 1359.94,1763.1 1396.98,1757.37 1415.5,1756.04 1434.02,1755.41"/>
<polyline points="915.46,1759.02 933.98,1766 952.5,1775.97 989.54,1799.37 1026.58,1807.06 1063.62,1808 1100.66,1808 1137.7,1808 1174.74,1808 1211.78,1808 1248.82,1808 1285.86,1808 1322.9,1807.85 1359.94,1803.13 1396.98,1785.08 1415.5,1774.09 1434.02,1763.88"/>
<polyline points="915.46,1790.03 933.98,1820.56 952.5,1840.03 989.54,1868.6 1026.58,1875.43 1063.62,1875.98 1100.66,1875.36 1137.7,1874.96 1174.74,1874.57 1211.78,1874.57 1248.82,1874.57 1285.86,1874.57 1322.9,1874.18 1359.94,1867.43 1396.98,1846 1415.5,1827 1434.02,1802.59"/>
<polyline points="915.46,1894.98 933.98,1917.98 952.5,1935.41 989.54,1950.64 1026.58,1951.97 1063.62,1948.6 1100.66,1944.98 1137.7,1943.02 1174.74,1941.37 1211.78,1939.96 1248.82,1938.55 1285.86,1937.37 1322.9,1936.59 1359.94,1931.56 1396.98,1912.01 1415.5,1893.96 1434.02,1867.43"/>
<polyline points="915.46,1935.02 933.98,2000.01 952.5,2005.04 989.54,2008.02 1026.58,2006.61 1063.62,2001.98 1100.66,1995.46 1137.7,1991.38 1174.74,1988.63 1211.78,1986.04 1248.82,1983.61 1285.86,1980.55 1322.9,1977.95 1359.94,1974.03 1396.98,1962.02 1415.5,1951.03 1434.02,1931.09"/>
</g>
<g fill="#1a6ee0" stroke="#1655a8" stroke-width="1">
<rect x="906.86" y="1747.44" width="17.2" height="17.2"/>
<rect x="925.38" y="1747.44" width="17.2" height="17.2"/>
<rect x="943.9" y="1747.44" width="17.2" height="17.2"/>
<rect x="980.94" y="1747.44" width="17.2" height="17.2"/>
<rect x="1017.98" y="1747.44" width="17.2" height="17.2"/>
<rect x="1055.02" y="1747.44" width="17.2" height="17.2"/>
<rect x="1092.06" y="1747.44" width="17.2" height="17.2"/>
<rect x="1129.1" y="1747.44" width="17.2" height="17.2"/>
<rect x="1166.14" y="1747.44" width="17.2" height="17.2"/>
<rect x="1203.18" y="1747.44" width="17.2" height="17.2"/>
<rect x="1240.22" y="1747.44" width="17.2" height="17.2"/>
<rect x="1277.26" y="1747.44" width="17.2" height="17.2"/>
<rect x="1314.3" y="1747.44" width="17.2" height="17.2"/>
<rect x="1351.34" y="1747.44" width="17.2" height="17.2"/>
<rect x="1388.38" y="1747.44" width="17.2" height="17.2"/>
<rect x="1406.9" y="1747.44" width="17.2" height="17.2"/>
<rect x="1425.42" y="1747.44" width="17.2" height="17.2"/>
</g>
<g fill="#2eaa62" stroke="#24844c" stroke-width="1">
<rect x="906.86" y="1747.44" width="17.2" height="17.2"/>
<rect x="925.38" y="1747.44" width="17.2" height="17.2"/>
<rect x="943.9" y="1747.44" width="17.2" height="17.2"/>
<rect x="980.94" y="1747.44" width="17.2" height="17.2"/>
<rect x="1017.98" y="1747.44" width="17.2" height="17.2"/>
<rect x="1055.02" y="1747.44" width="17.2" height="17.2"/>
<rect x="1092.06" y="1747.44" width="17.2" height="17.2"/>
<rect x="1129.1" y="1747.44" width="17.2" height="17.2"/>
<rect x="1166.14" y="1747.44" width="17.2" height="17.2"/>
<rect x="1203.18" y="1747.44" width="17.2" height="17.2"/>
<rect x="1240.22" y="1747.44" width="17.2" height="17.2"/>
<rect x="1277.26" y="1747.44" width="17.2" height="17.2"/>
<rect x="1314.3" y="1747.44" width="17.2" height="17.2"/>
<rect x="1351.34" y="1747.44" width="17.2" height="17.2"/>
<rect x="1388.38" y="1747.44" width="17.2" height="17.2"/>
<rect x="1406.9" y="1747.44" width="17.2" height="17.2"/>
<rect x="1425.42" y="1747.44" width="17.2" height="17.2"/>
</g>
<g fill="#b073e8" stroke="#8a58b5" stroke-width="1">
<rect x="906.86" y="1747.44" width="17.2" height="17.2"/>
<rect x="925.38" y="1739.59" width="17.2" height="17.2"/>
<rect x="943.9" y="1739.59" width="17.2" height="17.2"/>
<rect x="980.94" y="1739.59" width="17.2" height="17.2"/>
<rect x="1017.98" y="1739.59" width="17.2" height="17.2"/>
<rect x="1055.02" y="1739.59" width="17.2" height="17.2"/>
<rect x="1092.06" y="1738.8" width="17.2" height="17.2"/>
<rect x="1129.1" y="1738.8" width="17.2" height="17.2"/>
<rect x="1166.14" y="1738.8" width="17.2" height="17.2"/>
<rect x="1203.18" y="1738.8" width="17.2" height="17.2"/>
<rect x="1240.22" y="1738.8" width="17.2" height="17.2"/>
<rect x="1277.26" y="1738.8" width="17.2" height="17.2"/>
<rect x="1314.3" y="1738.8" width="17.2" height="17.2"/>
<rect x="1351.34" y="1738.8" width="17.2" height="17.2"/>
<rect x="1388.38" y="1747.44" width="17.2" height="17.2"/>
<rect x="1406.9" y="1747.44" width="17.2" height="17.2"/>
<rect x="1425.42" y="1747.44" width="17.2" height="17.2"/>
</g>
<g fill="#d49a06" stroke="#a67808" stroke-width="1">
<rect x="906.86" y="1747.44" width="17.2" height="17.2"/>
<rect x="925.38" y="1738.8" width="17.2" height="17.2"/>
<rect x="943.9" y="1738.8" width="17.2" height="17.2"/>
<rect x="980.94" y="1738.8" width="17.2" height="17.2"/>
<rect x="1017.98" y="1738.8" width="17.2" height="17.2"/>
<rect x="1055.02" y="1738.8" width="17.2" height="17.2"/>
<rect x="1092.06" y="1746.81" width="17.2" height="17.2"/>
<rect x="1129.1" y="1746.81" width="17.2" height="17.2"/>
<rect x="1166.14" y="1746.81" width="17.2" height="17.2"/>
<rect x="1203.18" y="1746.81" width="17.2" height="17.2"/>
<rect x="1240.22" y="1746.81" width="17.2" height="17.2"/>
<rect x="1277.26" y="1746.81" width="17.2" height="17.2"/>
<rect x="1314.3" y="1746.81" width="17.2" height="17.2"/>
<rect x="1351.34" y="1746.81" width="17.2" height="17.2"/>
<rect x="1388.38" y="1747.44" width="17.2" height="17.2"/>
<rect x="1406.9" y="1747.44" width="17.2" height="17.2"/>
<rect x="1425.42" y="1747.44" width="17.2" height="17.2"/>
</g>
<g fill="#02cdd0" stroke="#06a0a4" stroke-width="1">
<rect x="906.86" y="1746.81" width="17.2" height="17.2"/>
<rect x="925.38" y="1746.65" width="17.2" height="17.2"/>
<rect x="943.9" y="1748.77" width="17.2" height="17.2"/>
<rect x="980.94" y="1754.5" width="17.2" height="17.2"/>
<rect x="1017.98" y="1756.38" width="17.2" height="17.2"/>
<rect x="1055.02" y="1756.38" width="17.2" height="17.2"/>
<rect x="1092.06" y="1756.38" width="17.2" height="17.2"/>
<rect x="1129.1" y="1756.38" width="17.2" height="17.2"/>
<rect x="1166.14" y="1756.38" width="17.2" height="17.2"/>
<rect x="1203.18" y="1756.38" width="17.2" height="17.2"/>
<rect x="1240.22" y="1756.38" width="17.2" height="17.2"/>
<rect x="1277.26" y="1756.38" width="17.2" height="17.2"/>
<rect x="1314.3" y="1756.38" width="17.2" height="17.2"/>
<rect x="1351.34" y="1754.5" width="17.2" height="17.2"/>
<rect x="1388.38" y="1748.77" width="17.2" height="17.2"/>
<rect x="1406.9" y="1747.44" width="17.2" height="17.2"/>
<rect x="1425.42" y="1746.81" width="17.2" height="17.2"/>
</g>
<g fill="#7e4c4b" stroke="#5e3838" stroke-width="1">
<rect x="906.86" y="1750.42" width="17.2" height="17.2"/>
<rect x="925.38" y="1757.4" width="17.2" height="17.2"/>
<rect x="943.9" y="1767.37" width="17.2" height="17.2"/>
<rect x="980.94" y="1790.77" width="17.2" height="17.2"/>
<rect x="1017.98" y="1798.46" width="17.2" height="17.2"/>
<rect x="1055.02" y="1799.4" width="17.2" height="17.2"/>
<rect x="1092.06" y="1799.4" width="17.2" height="17.2"/>
<rect x="1129.1" y="1799.4" width="17.2" height="17.2"/>
<rect x="1166.14" y="1799.4" width="17.2" height="17.2"/>
<rect x="1203.18" y="1799.4" width="17.2" height="17.2"/>
<rect x="1240.22" y="1799.4" width="17.2" height="17.2"/>
<rect x="1277.26" y="1799.4" width="17.2" height="17.2"/>
<rect x="1314.3" y="1799.25" width="17.2" height="17.2"/>
<rect x="1351.34" y="1794.54" width="17.2" height="17.2"/>
<rect x="1388.38" y="1776.48" width="17.2" height="17.2"/>
<rect x="1406.9" y="1765.49" width="17.2" height="17.2"/>
<rect x="1425.42" y="1755.29" width="17.2" height="17.2"/>
</g>
<g fill="#8c8e04" stroke="#6a6c08" stroke-width="1">
<rect x="906.86" y="1781.43" width="17.2" height="17.2"/>
<rect x="925.38" y="1811.96" width="17.2" height="17.2"/>
<rect x="943.9" y="1831.43" width="17.2" height="17.2"/>
<rect x="980.94" y="1860" width="17.2" height="17.2"/>
<rect x="1017.98" y="1866.83" width="17.2" height="17.2"/>
<rect x="1055.02" y="1867.38" width="17.2" height="17.2"/>
<rect x="1092.06" y="1866.76" width="17.2" height="17.2"/>
<rect x="1129.1" y="1866.36" width="17.2" height="17.2"/>
<rect x="1166.14" y="1865.97" width="17.2" height="17.2"/>
<rect x="1203.18" y="1865.97" width="17.2" height="17.2"/>
<rect x="1240.22" y="1865.97" width="17.2" height="17.2"/>
<rect x="1277.26" y="1865.97" width="17.2" height="17.2"/>
<rect x="1314.3" y="1865.58" width="17.2" height="17.2"/>
<rect x="1351.34" y="1858.83" width="17.2" height="17.2"/>
<rect x="1388.38" y="1837.4" width="17.2" height="17.2"/>
<rect x="1406.9" y="1818.4" width="17.2" height="17.2"/>
<rect x="1425.42" y="1793.99" width="17.2" height="17.2"/>
</g>
<g fill="#fd6206" stroke="#c44a08" stroke-width="1">
<rect x="906.86" y="1886.38" width="17.2" height="17.2"/>
<rect x="925.38" y="1909.38" width="17.2" height="17.2"/>
<rect x="943.9" y="1926.81" width="17.2" height="17.2"/>
<rect x="980.94" y="1942.04" width="17.2" height="17.2"/>
<rect x="1017.98" y="1943.37" width="17.2" height="17.2"/>
<rect x="1055.02" y="1940" width="17.2" height="17.2"/>
<rect x="1092.06" y="1936.38" width="17.2" height="17.2"/>
<rect x="1129.1" y="1934.42" width="17.2" height="17.2"/>
<rect x="1166.14" y="1932.77" width="17.2" height="17.2"/>
<rect x="1203.18" y="1931.36" width="17.2" height="17.2"/>
<rect x="1240.22" y="1929.95" width="17.2" height="17.2"/>
<rect x="1277.26" y="1928.77" width="17.2" height="17.2"/>
<rect x="1314.3" y="1927.99" width="17.2" height="17.2"/>
<rect x="1351.34" y="1922.96" width="17.2" height="17.2"/>
<rect x="1388.38" y="1903.41" width="17.2" height="17.2"/>
<rect x="1406.9" y="1885.36" width="17.2" height="17.2"/>
<rect x="1425.42" y="1858.83" width="17.2" height="17.2"/>
</g>
<g fill="#6498d4" stroke="#4c76a8" stroke-width="1">
<rect x="906.86" y="1926.42" width="17.2" height="17.2"/>
<rect x="925.38" y="1991.41" width="17.2" height="17.2"/>
<rect x="943.9" y="1996.44" width="17.2" height="17.2"/>
<rect x="980.94" y="1999.42" width="17.2" height="17.2"/>
<rect x="1017.98" y="1998.01" width="17.2" height="17.2"/>
<rect x="1055.02" y="1993.38" width="17.2" height="17.2"/>
<rect x="1092.06" y="1986.86" width="17.2" height="17.2"/>
<rect x="1129.1" y="1982.78" width="17.2" height="17.2"/>
<rect x="1166.14" y="1980.03" width="17.2" height="17.2"/>
<rect x="1203.18" y="1977.44" width="17.2" height="17.2"/>
<rect x="1240.22" y="1975.01" width="17.2" height="17.2"/>
<rect x="1277.26" y="1971.95" width="17.2" height="17.2"/>
<rect x="1314.3" y="1969.35" width="17.2" height="17.2"/>
<rect x="1351.34" y="1965.43" width="17.2" height="17.2"/>
<rect x="1388.38" y="1953.42" width="17.2" height="17.2"/>
<rect x="1406.9" y="1942.43" width="17.2" height="17.2"/>
<rect x="1425.42" y="1922.49" width="17.2" height="17.2"/>
</g>
<rect x="897.5" y="1731.7" width="556.1" height="305.5" fill="none" stroke="#000" stroke-width="2.8"/>
<path d="M915.46 2037.2V2044.6M952.5 2037.2V2050.1M989.54 2037.2V2044.6M1026.58 2037.2V2050.1M1063.62 2037.2V2044.6M1100.66 2037.2V2050.1M1137.7 2037.2V2044.6M1174.74 2037.2V2050.1M1211.78 2037.2V2044.6M1248.82 2037.2V2050.1M1285.86 2037.2V2044.6M1322.9 2037.2V2050.1M1359.94 2037.2V2044.6M1396.98 2037.2V2050.1M1434.02 2037.2V2044.6" stroke="#000" stroke-width="2.6" fill="none"/>
<path d="M897.5 2033.92H890.6M897.5 2006.45H885.1M897.5 1978.97H890.6M897.5 1951.5H885.1M897.5 1924.03H890.6M897.5 1896.55H885.1M897.5 1869.08H890.6M897.5 1841.6H885.1M897.5 1814.12H890.6M897.5 1786.65H885.1M897.5 1759.17H890.6M897.5 1731.7H885.1" stroke="#000" stroke-width="2.6" fill="none"/>
<g font-family="'Liberation Sans', sans-serif" font-weight="bold" font-size="31.5" fill="#000">
<text x="952.5" y="2082.4" text-anchor="middle">0.0</text>
<text x="1026.58" y="2082.4" text-anchor="middle">0.2</text>
<text x="1100.66" y="2082.4" text-anchor="middle">0.4</text>
<text x="1174.74" y="2082.4" text-anchor="middle">0.6</text>
<text x="1248.82" y="2082.4" text-anchor="middle">0.8</text>
<text x="1322.9" y="2082.4" text-anchor="middle">1.0</text>
<text x="1396.98" y="2082.4" text-anchor="middle">1.2</text>
<text x="875.5" y="2016.25" text-anchor="end">7</text>
<text x="875.5" y="1961.3" text-anchor="end">14</text>
<text x="875.5" y="1906.35" text-anchor="end">21</text>
<text x="875.5" y="1851.4" text-anchor="end">28</text>
<text x="875.5" y="1796.45" text-anchor="end">35</text>
<text x="875.5" y="1741.5" text-anchor="end">42</text>
</g>
<text x="1175.55" y="2126" font-family="'Liberation Sans', sans-serif" font-weight="bold" font-size="32" text-anchor="middle">Energy level (eV)</text>
<text transform="translate(819,1884.45) rotate(-90)" font-family="'Liberation Sans', sans-serif" font-weight="bold" font-size="32" text-anchor="middle">J<tspan font-size="21" dy="7.5">SC</tspan><tspan dy="-7.5"> (mA/cm</tspan><tspan font-size="21" dy="-13.5">2</tspan><tspan dy="13.5">)</tspan></text>
<text x="800.7" y="1738" font-family="'Liberation Sans', sans-serif" font-weight="bold" font-size="36">(j)</text>
<text x="1429.5" y="2024.5" font-family="'Liberation Sans', sans-serif" font-weight="bold" font-size="32" text-anchor="end">CdS</text>
<path d="M83.7 2170H154.7" stroke="#767676" stroke-width="1.35" stroke-dasharray="1.5 2.0" fill="none"/>
<circle cx="120.2" cy="2170" r="9.3" fill="#1a6ee0" stroke="#1655a8" stroke-width="1"/>
<text x="165.2" y="2181.5" font-family="'Liberation Sans', sans-serif" font-weight="bold" font-size="32">10<tspan font-size="20.5" dy="-13" dx="3">12</tspan><tspan dy="13" dx="-2"> cm</tspan><tspan font-size="20.5" dy="-13">-3</tspan></text>
<path d="M83.7 2214.2H154.7" stroke="#767676" stroke-width="1.35" stroke-dasharray="1.5 2.0" fill="none"/>
<circle cx="120.2" cy="2214.2" r="9.3" fill="#2eaa62" stroke="#24844c" stroke-width="1"/>
<text x="165.2" y="2225.7" font-family="'Liberation Sans', sans-serif" font-weight="bold" font-size="32">10<tspan font-size="20.5" dy="-13" dx="3">13</tspan><tspan dy="13" dx="-2"> cm</tspan><tspan font-size="20.5" dy="-13">-3</tspan></text>
<path d="M83.7 2258.5H154.7" stroke="#767676" stroke-width="1.35" stroke-dasharray="1.5 2.0" fill="none"/>
<circle cx="120.2" cy="2258.5" r="9.3" fill="#b073e8" stroke="#8a58b5" stroke-width="1"/>
<text x="165.2" y="2270" font-family="'Liberation Sans', sans-serif" font-weight="bold" font-size="32">10<tspan font-size="20.5" dy="-13" dx="3">14</tspan><tspan dy="13" dx="-2"> cm</tspan><tspan font-size="20.5" dy="-13">-3</tspan></text>
<path d="M306.4 2170H377.4" stroke="#767676" stroke-width="1.35" stroke-dasharray="1.5 2.0" fill="none"/>
<circle cx="342.9" cy="2170" r="9.3" fill="#d49a06" stroke="#a67808" stroke-width="1"/>
<text x="387.9" y="2181.5" font-family="'Liberation Sans', sans-serif" font-weight="bold" font-size="32">10<tspan font-size="20.5" dy="-13" dx="3">15</tspan><tspan dy="13" dx="-2"> cm</tspan><tspan font-size="20.5" dy="-13">-3</tspan></text>
<path d="M306.4 2214.2H377.4" stroke="#767676" stroke-width="1.35" stroke-dasharray="1.5 2.0" fill="none"/>
<circle cx="342.9" cy="2214.2" r="9.3" fill="#02cdd0" stroke="#06a0a4" stroke-width="1"/>
<text x="387.9" y="2225.7" font-family="'Liberation Sans', sans-serif" font-weight="bold" font-size="32">10<tspan font-size="20.5" dy="-13" dx="3">16</tspan><tspan dy="13" dx="-2"> cm</tspan><tspan font-size="20.5" dy="-13">-3</tspan></text>
<path d="M306.4 2258.5H377.4" stroke="#767676" stroke-width="1.35" stroke-dasharray="1.5 2.0" fill="none"/>
<circle cx="342.9" cy="2258.5" r="9.3" fill="#7e4c4b" stroke="#5e3838" stroke-width="1"/>
<text x="387.9" y="2270" font-family="'Liberation Sans', sans-serif" font-weight="bold" font-size="32">10<tspan font-size="20.5" dy="-13" dx="3">17</tspan><tspan dy="13" dx="-2"> cm</tspan><tspan font-size="20.5" dy="-13">-3</tspan></text>
<path d="M529.2 2170H600.2" stroke="#767676" stroke-width="1.35" stroke-dasharray="1.5 2.0" fill="none"/>
<circle cx="565.7" cy="2170" r="9.3" fill="#8c8e04" stroke="#6a6c08" stroke-width="1"/>
<text x="610.7" y="2181.5" font-family="'Liberation Sans', sans-serif" font-weight="bold" font-size="32">10<tspan font-size="20.5" dy="-13" dx="3">18</tspan><tspan dy="13" dx="-2"> cm</tspan><tspan font-size="20.5" dy="-13">-3</tspan></text>
<path d="M529.2 2214.2H600.2" stroke="#767676" stroke-width="1.35" stroke-dasharray="1.5 2.0" fill="none"/>
<circle cx="565.7" cy="2214.2" r="9.3" fill="#fd6206" stroke="#c44a08" stroke-width="1"/>
<text x="610.7" y="2225.7" font-family="'Liberation Sans', sans-serif" font-weight="bold" font-size="32">10<tspan font-size="20.5" dy="-13" dx="3">19</tspan><tspan dy="13" dx="-2"> cm</tspan><tspan font-size="20.5" dy="-13">-3</tspan></text>
<path d="M529.2 2258.5H600.2" stroke="#767676" stroke-width="1.35" stroke-dasharray="1.5 2.0" fill="none"/>
<circle cx="565.7" cy="2258.5" r="9.3" fill="#6498d4" stroke="#4c76a8" stroke-width="1"/>
<text x="610.7" y="2270" font-family="'Liberation Sans', sans-serif" font-weight="bold" font-size="32">10<tspan font-size="20.5" dy="-13" dx="3">20</tspan><tspan dy="13" dx="-2"> cm</tspan><tspan font-size="20.5" dy="-13">-3</tspan></text>
<path d="M813 2167.1H884" stroke="#767676" stroke-width="1.35" stroke-dasharray="1.5 2.0" fill="none"/>
<rect x="840.7" y="2158.3" width="17.6" height="17.6" fill="#1a6ee0" stroke="#1655a8" stroke-width="1"/>
<text x="894.5" y="2178.6" font-family="'Liberation Sans', sans-serif" font-weight="bold" font-size="32">10<tspan font-size="20.5" dy="-13" dx="3">12</tspan><tspan dy="13" dx="-2"> cm</tspan><tspan font-size="20.5" dy="-13">-3</tspan></text>
<path d="M813 2211.5H884" stroke="#767676" stroke-width="1.35" stroke-dasharray="1.5 2.0" fill="none"/>
<rect x="840.7" y="2202.7" width="17.6" height="17.6" fill="#2eaa62" stroke="#24844c" stroke-width="1"/>
<text x="894.5" y="2223" font-family="'Liberation Sans', sans-serif" font-weight="bold" font-size="32">10<tspan font-size="20.5" dy="-13" dx="3">13</tspan><tspan dy="13" dx="-2"> cm</tspan><tspan font-size="20.5" dy="-13">-3</tspan></text>
<path d="M813 2255.9H884" stroke="#767676" stroke-width="1.35" stroke-dasharray="1.5 2.0" fill="none"/>
<rect x="840.7" y="2247.1" width="17.6" height="17.6" fill="#b073e8" stroke="#8a58b5" stroke-width="1"/>
<text x="894.5" y="2267.4" font-family="'Liberation Sans', sans-serif" font-weight="bold" font-size="32">10<tspan font-size="20.5" dy="-13" dx="3">14</tspan><tspan dy="13" dx="-2"> cm</tspan><tspan font-size="20.5" dy="-13">-3</tspan></text>
<path d="M1044.5 2167.1H1115.5" stroke="#767676" stroke-width="1.35" stroke-dasharray="1.5 2.0" fill="none"/>
<rect x="1072.2" y="2158.3" width="17.6" height="17.6" fill="#d49a06" stroke="#a67808" stroke-width="1"/>
<text x="1126" y="2178.6" font-family="'Liberation Sans', sans-serif" font-weight="bold" font-size="32">10<tspan font-size="20.5" dy="-13" dx="3">15</tspan><tspan dy="13" dx="-2"> cm</tspan><tspan font-size="20.5" dy="-13">-3</tspan></text>
<path d="M1044.5 2211.5H1115.5" stroke="#767676" stroke-width="1.35" stroke-dasharray="1.5 2.0" fill="none"/>
<rect x="1072.2" y="2202.7" width="17.6" height="17.6" fill="#02cdd0" stroke="#06a0a4" stroke-width="1"/>
<text x="1126" y="2223" font-family="'Liberation Sans', sans-serif" font-weight="bold" font-size="32">10<tspan font-size="20.5" dy="-13" dx="3">16</tspan><tspan dy="13" dx="-2"> cm</tspan><tspan font-size="20.5" dy="-13">-3</tspan></text>
<path d="M1044.5 2255.9H1115.5" stroke="#767676" stroke-width="1.35" stroke-dasharray="1.5 2.0" fill="none"/>
<rect x="1072.2" y="2247.1" width="17.6" height="17.6" fill="#7e4c4b" stroke="#5e3838" stroke-width="1"/>
<text x="1126" y="2267.4" font-family="'Liberation Sans', sans-serif" font-weight="bold" font-size="32">10<tspan font-size="20.5" dy="-13" dx="3">17</tspan><tspan dy="13" dx="-2"> cm</tspan><tspan font-size="20.5" dy="-13">-3</tspan></text>
<path d="M1276.5 2167.1H1347.5" stroke="#767676" stroke-width="1.35" stroke-dasharray="1.5 2.0" fill="none"/>
<rect x="1304.2" y="2158.3" width="17.6" height="17.6" fill="#8c8e04" stroke="#6a6c08" stroke-width="1"/>
<text x="1358" y="2178.6" font-family="'Liberation Sans', sans-serif" font-weight="bold" font-size="32">10<tspan font-size="20.5" dy="-13" dx="3">18</tspan><tspan dy="13" dx="-2"> cm</tspan><tspan font-size="20.5" dy="-13">-3</tspan></text>
<path d="M1276.5 2211.5H1347.5" stroke="#767676" stroke-width="1.35" stroke-dasharray="1.5 2.0" fill="none"/>
<rect x="1304.2" y="2202.7" width="17.6" height="17.6" fill="#fd6206" stroke="#c44a08" stroke-width="1"/>
<text x="1358" y="2223" font-family="'Liberation Sans', sans-serif" font-weight="bold" font-size="32">10<tspan font-size="20.5" dy="-13" dx="3">19</tspan><tspan dy="13" dx="-2"> cm</tspan><tspan font-size="20.5" dy="-13">-3</tspan></text>
<path d="M1276.5 2255.9H1347.5" stroke="#767676" stroke-width="1.35" stroke-dasharray="1.5 2.0" fill="none"/>
<rect x="1304.2" y="2247.1" width="17.6" height="17.6" fill="#6498d4" stroke="#4c76a8" stroke-width="1"/>
<text x="1358" y="2267.4" font-family="'Liberation Sans', sans-serif" font-weight="bold" font-size="32">10<tspan font-size="20.5" dy="-13" dx="3">20</tspan><tspan dy="13" dx="-2"> cm</tspan><tspan font-size="20.5" dy="-13">-3</tspan></text>
</svg></body></html>
